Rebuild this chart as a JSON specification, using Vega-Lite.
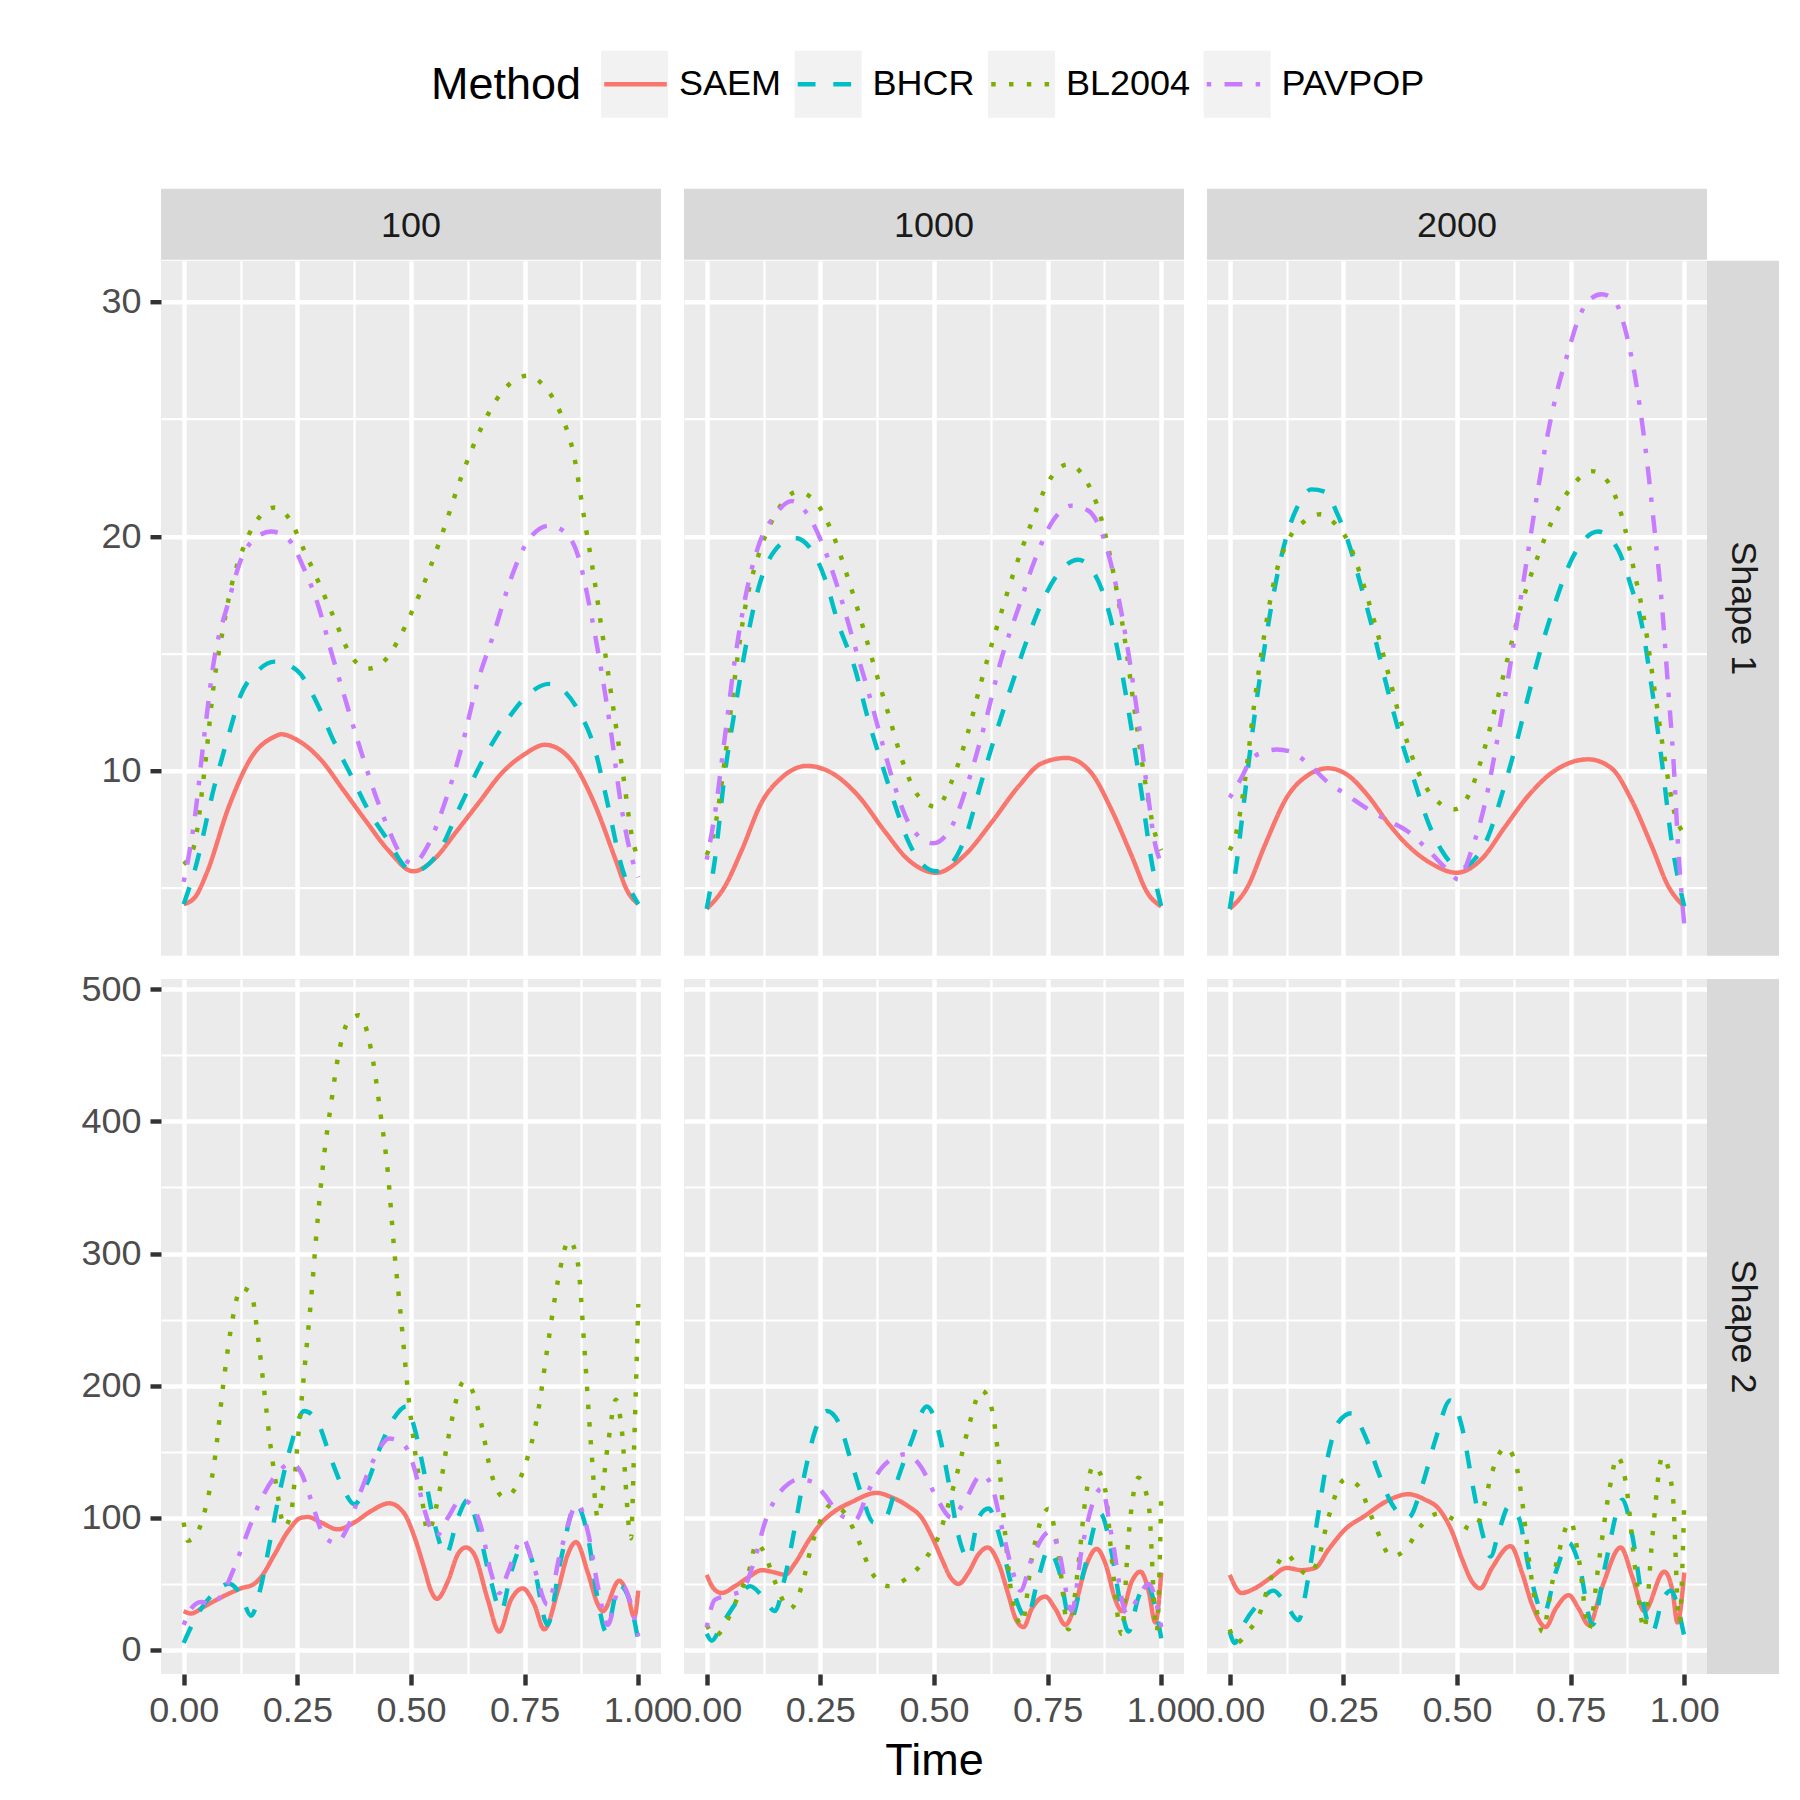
{
"$schema": "https://vega.github.io/schema/vega-lite/v6.json",
"background": "white",
"padding": {"left": 80, "top": 49.7, "right": 0, "bottom": 0},
"autosize": {"type": "pad"},
"config": {
 "font": "Liberation Sans",
 "view": {"stroke": null},
 "axis": {"domain": false, "gridColor": "#FFFFFF", "tickColor": "#333333", "labelColor": "#4D4D4D", "labelFontSize": 36, "tickSize": 11, "tickWidth": 4.45, "labelPadding": 9, "titleFontSize": 45, "titleFontWeight": "normal", "titleColor": "#000000", "titlePadding": 10, "labelFlush": false, "labelOverlap": false},
 "legend": {"titleFontSize": 45, "titleFontWeight": "normal", "titleColor": "#000000", "labelFontSize": 36, "labelColor": "#000000", "labelOffset": 10, "columnPadding": 6.5, "titlePadding": 20}
},
"datasets": {"d": [
{"n":"100","s":"Shape 1","m":"SAEM","t":0,"v":4.3},{"n":"100","s":"Shape 1","m":"SAEM","t":0.025,"v":4.6},{"n":"100","s":"Shape 1","m":"SAEM","t":0.05,"v":5.6},{"n":"100","s":"Shape 1","m":"SAEM","t":0.1,"v":8.5},{"n":"100","s":"Shape 1","m":"SAEM","t":0.15,"v":10.6},{"n":"100","s":"Shape 1","m":"SAEM","t":0.2,"v":11.45},{"n":"100","s":"Shape 1","m":"SAEM","t":0.214,"v":11.55},{"n":"100","s":"Shape 1","m":"SAEM","t":0.25,"v":11.3},{"n":"100","s":"Shape 1","m":"SAEM","t":0.3,"v":10.5},{"n":"100","s":"Shape 1","m":"SAEM","t":0.35,"v":9.2},{"n":"100","s":"Shape 1","m":"SAEM","t":0.4,"v":7.87},{"n":"100","s":"Shape 1","m":"SAEM","t":0.45,"v":6.6},{"n":"100","s":"Shape 1","m":"SAEM","t":0.505,"v":5.7},{"n":"100","s":"Shape 1","m":"SAEM","t":0.55,"v":6.2},{"n":"100","s":"Shape 1","m":"SAEM","t":0.6,"v":7.4},{"n":"100","s":"Shape 1","m":"SAEM","t":0.65,"v":8.65},{"n":"100","s":"Shape 1","m":"SAEM","t":0.7,"v":9.9},{"n":"100","s":"Shape 1","m":"SAEM","t":0.75,"v":10.7},{"n":"100","s":"Shape 1","m":"SAEM","t":0.795,"v":11.1},{"n":"100","s":"Shape 1","m":"SAEM","t":0.85,"v":10.5},{"n":"100","s":"Shape 1","m":"SAEM","t":0.9,"v":8.75},{"n":"100","s":"Shape 1","m":"SAEM","t":0.95,"v":6.2},{"n":"100","s":"Shape 1","m":"SAEM","t":0.975,"v":4.9},{"n":"100","s":"Shape 1","m":"SAEM","t":1,"v":4.3},
{"n":"100","s":"Shape 1","m":"BHCR","t":0,"v":4.3},{"n":"100","s":"Shape 1","m":"BHCR","t":0.025,"v":5.8},{"n":"100","s":"Shape 1","m":"BHCR","t":0.067,"v":9.3},{"n":"100","s":"Shape 1","m":"BHCR","t":0.1,"v":11.6},{"n":"100","s":"Shape 1","m":"BHCR","t":0.125,"v":13.2},{"n":"100","s":"Shape 1","m":"BHCR","t":0.16,"v":14.2},{"n":"100","s":"Shape 1","m":"BHCR","t":0.2,"v":14.65},{"n":"100","s":"Shape 1","m":"BHCR","t":0.25,"v":14.26},{"n":"100","s":"Shape 1","m":"BHCR","t":0.295,"v":12.8},{"n":"100","s":"Shape 1","m":"BHCR","t":0.33,"v":11.26},{"n":"100","s":"Shape 1","m":"BHCR","t":0.368,"v":9.8},{"n":"100","s":"Shape 1","m":"BHCR","t":0.405,"v":8.35},{"n":"100","s":"Shape 1","m":"BHCR","t":0.45,"v":7.0},{"n":"100","s":"Shape 1","m":"BHCR","t":0.49,"v":5.84},{"n":"100","s":"Shape 1","m":"BHCR","t":0.507,"v":5.7},{"n":"100","s":"Shape 1","m":"BHCR","t":0.56,"v":6.5},{"n":"100","s":"Shape 1","m":"BHCR","t":0.61,"v":8.55},{"n":"100","s":"Shape 1","m":"BHCR","t":0.654,"v":10.3},{"n":"100","s":"Shape 1","m":"BHCR","t":0.713,"v":12.2},{"n":"100","s":"Shape 1","m":"BHCR","t":0.75,"v":13.1},{"n":"100","s":"Shape 1","m":"BHCR","t":0.804,"v":13.7},{"n":"100","s":"Shape 1","m":"BHCR","t":0.867,"v":12.6},{"n":"100","s":"Shape 1","m":"BHCR","t":0.903,"v":11.0},{"n":"100","s":"Shape 1","m":"BHCR","t":0.933,"v":8.55},{"n":"100","s":"Shape 1","m":"BHCR","t":0.962,"v":6.0},{"n":"100","s":"Shape 1","m":"BHCR","t":1,"v":4.3},
{"n":"100","s":"Shape 1","m":"BL2004","t":0,"v":6.0},{"n":"100","s":"Shape 1","m":"BL2004","t":0.023,"v":6.8},{"n":"100","s":"Shape 1","m":"BL2004","t":0.045,"v":9.9},{"n":"100","s":"Shape 1","m":"BL2004","t":0.067,"v":13.8},{"n":"100","s":"Shape 1","m":"BL2004","t":0.086,"v":16.0},{"n":"100","s":"Shape 1","m":"BL2004","t":0.104,"v":17.8},{"n":"100","s":"Shape 1","m":"BL2004","t":0.133,"v":19.6},{"n":"100","s":"Shape 1","m":"BL2004","t":0.17,"v":20.9},{"n":"100","s":"Shape 1","m":"BL2004","t":0.2,"v":21.23},{"n":"100","s":"Shape 1","m":"BL2004","t":0.232,"v":20.75},{"n":"100","s":"Shape 1","m":"BL2004","t":0.265,"v":19.4},{"n":"100","s":"Shape 1","m":"BL2004","t":0.302,"v":17.8},{"n":"100","s":"Shape 1","m":"BL2004","t":0.331,"v":16.5},{"n":"100","s":"Shape 1","m":"BL2004","t":0.368,"v":14.9},{"n":"100","s":"Shape 1","m":"BL2004","t":0.405,"v":14.35},{"n":"100","s":"Shape 1","m":"BL2004","t":0.434,"v":14.55},{"n":"100","s":"Shape 1","m":"BL2004","t":0.47,"v":15.5},{"n":"100","s":"Shape 1","m":"BL2004","t":0.5,"v":16.7},{"n":"100","s":"Shape 1","m":"BL2004","t":0.537,"v":18.4},{"n":"100","s":"Shape 1","m":"BL2004","t":0.573,"v":20.35},{"n":"100","s":"Shape 1","m":"BL2004","t":0.61,"v":22.5},{"n":"100","s":"Shape 1","m":"BL2004","t":0.654,"v":24.6},{"n":"100","s":"Shape 1","m":"BL2004","t":0.698,"v":26.1},{"n":"100","s":"Shape 1","m":"BL2004","t":0.727,"v":26.65},{"n":"100","s":"Shape 1","m":"BL2004","t":0.757,"v":26.85},{"n":"100","s":"Shape 1","m":"BL2004","t":0.793,"v":26.4},{"n":"100","s":"Shape 1","m":"BL2004","t":0.83,"v":25.2},{"n":"100","s":"Shape 1","m":"BL2004","t":0.86,"v":23.3},{"n":"100","s":"Shape 1","m":"BL2004","t":0.88,"v":20.9},{"n":"100","s":"Shape 1","m":"BL2004","t":0.903,"v":18.2},{"n":"100","s":"Shape 1","m":"BL2004","t":0.925,"v":15.3},{"n":"100","s":"Shape 1","m":"BL2004","t":0.947,"v":12.4},{"n":"100","s":"Shape 1","m":"BL2004","t":0.969,"v":9.5},{"n":"100","s":"Shape 1","m":"BL2004","t":0.984,"v":7.4},{"n":"100","s":"Shape 1","m":"BL2004","t":1,"v":6.2},
{"n":"100","s":"Shape 1","m":"PAVPOP","t":0,"v":5.25},{"n":"100","s":"Shape 1","m":"PAVPOP","t":0.023,"v":7.8},{"n":"100","s":"Shape 1","m":"PAVPOP","t":0.045,"v":11.45},{"n":"100","s":"Shape 1","m":"PAVPOP","t":0.067,"v":14.75},{"n":"100","s":"Shape 1","m":"PAVPOP","t":0.097,"v":17.1},{"n":"100","s":"Shape 1","m":"PAVPOP","t":0.126,"v":19.0},{"n":"100","s":"Shape 1","m":"PAVPOP","t":0.163,"v":20.0},{"n":"100","s":"Shape 1","m":"PAVPOP","t":0.192,"v":20.2},{"n":"100","s":"Shape 1","m":"PAVPOP","t":0.229,"v":19.9},{"n":"100","s":"Shape 1","m":"PAVPOP","t":0.265,"v":18.6},{"n":"100","s":"Shape 1","m":"PAVPOP","t":0.295,"v":17.1},{"n":"100","s":"Shape 1","m":"PAVPOP","t":0.324,"v":15.1},{"n":"100","s":"Shape 1","m":"PAVPOP","t":0.353,"v":13.2},{"n":"100","s":"Shape 1","m":"PAVPOP","t":0.383,"v":11.26},{"n":"100","s":"Shape 1","m":"PAVPOP","t":0.412,"v":9.5},{"n":"100","s":"Shape 1","m":"PAVPOP","t":0.449,"v":7.58},{"n":"100","s":"Shape 1","m":"PAVPOP","t":0.478,"v":6.4},{"n":"100","s":"Shape 1","m":"PAVPOP","t":0.504,"v":6.03},{"n":"100","s":"Shape 1","m":"PAVPOP","t":0.537,"v":6.8},{"n":"100","s":"Shape 1","m":"PAVPOP","t":0.573,"v":8.55},{"n":"100","s":"Shape 1","m":"PAVPOP","t":0.61,"v":10.9},{"n":"100","s":"Shape 1","m":"PAVPOP","t":0.647,"v":13.8},{"n":"100","s":"Shape 1","m":"PAVPOP","t":0.683,"v":15.9},{"n":"100","s":"Shape 1","m":"PAVPOP","t":0.72,"v":18.2},{"n":"100","s":"Shape 1","m":"PAVPOP","t":0.757,"v":19.8},{"n":"100","s":"Shape 1","m":"PAVPOP","t":0.804,"v":20.45},{"n":"100","s":"Shape 1","m":"PAVPOP","t":0.837,"v":20.2},{"n":"100","s":"Shape 1","m":"PAVPOP","t":0.867,"v":19.2},{"n":"100","s":"Shape 1","m":"PAVPOP","t":0.896,"v":16.7},{"n":"100","s":"Shape 1","m":"PAVPOP","t":0.918,"v":14.35},{"n":"100","s":"Shape 1","m":"PAVPOP","t":0.94,"v":11.65},{"n":"100","s":"Shape 1","m":"PAVPOP","t":0.962,"v":8.55},{"n":"100","s":"Shape 1","m":"PAVPOP","t":0.984,"v":6.4},{"n":"100","s":"Shape 1","m":"PAVPOP","t":1,"v":5.45},
{"n":"1000","s":"Shape 1","m":"SAEM","t":0,"v":4.1},{"n":"1000","s":"Shape 1","m":"SAEM","t":0.04,"v":5.06},{"n":"1000","s":"Shape 1","m":"SAEM","t":0.077,"v":6.6},{"n":"1000","s":"Shape 1","m":"SAEM","t":0.121,"v":8.65},{"n":"1000","s":"Shape 1","m":"SAEM","t":0.165,"v":9.7},{"n":"1000","s":"Shape 1","m":"SAEM","t":0.22,"v":10.2},{"n":"1000","s":"Shape 1","m":"SAEM","t":0.275,"v":9.9},{"n":"1000","s":"Shape 1","m":"SAEM","t":0.333,"v":8.93},{"n":"1000","s":"Shape 1","m":"SAEM","t":0.392,"v":7.4},{"n":"1000","s":"Shape 1","m":"SAEM","t":0.443,"v":6.2},{"n":"1000","s":"Shape 1","m":"SAEM","t":0.505,"v":5.64},{"n":"1000","s":"Shape 1","m":"SAEM","t":0.568,"v":6.4},{"n":"1000","s":"Shape 1","m":"SAEM","t":0.626,"v":7.77},{"n":"1000","s":"Shape 1","m":"SAEM","t":0.685,"v":9.3},{"n":"1000","s":"Shape 1","m":"SAEM","t":0.736,"v":10.3},{"n":"1000","s":"Shape 1","m":"SAEM","t":0.791,"v":10.54},{"n":"1000","s":"Shape 1","m":"SAEM","t":0.846,"v":9.9},{"n":"1000","s":"Shape 1","m":"SAEM","t":0.89,"v":8.35},{"n":"1000","s":"Shape 1","m":"SAEM","t":0.934,"v":6.4},{"n":"1000","s":"Shape 1","m":"SAEM","t":0.97,"v":4.77},{"n":"1000","s":"Shape 1","m":"SAEM","t":1,"v":4.2},
{"n":"1000","s":"Shape 1","m":"BHCR","t":0,"v":4.1},{"n":"1000","s":"Shape 1","m":"BHCR","t":0.018,"v":6.2},{"n":"1000","s":"Shape 1","m":"BHCR","t":0.04,"v":9.9},{"n":"1000","s":"Shape 1","m":"BHCR","t":0.062,"v":12.6},{"n":"1000","s":"Shape 1","m":"BHCR","t":0.084,"v":15.1},{"n":"1000","s":"Shape 1","m":"BHCR","t":0.114,"v":17.8},{"n":"1000","s":"Shape 1","m":"BHCR","t":0.15,"v":19.4},{"n":"1000","s":"Shape 1","m":"BHCR","t":0.194,"v":19.93},{"n":"1000","s":"Shape 1","m":"BHCR","t":0.231,"v":19.4},{"n":"1000","s":"Shape 1","m":"BHCR","t":0.26,"v":18.2},{"n":"1000","s":"Shape 1","m":"BHCR","t":0.289,"v":16.3},{"n":"1000","s":"Shape 1","m":"BHCR","t":0.326,"v":14.35},{"n":"1000","s":"Shape 1","m":"BHCR","t":0.355,"v":12.2},{"n":"1000","s":"Shape 1","m":"BHCR","t":0.385,"v":10.3},{"n":"1000","s":"Shape 1","m":"BHCR","t":0.414,"v":8.55},{"n":"1000","s":"Shape 1","m":"BHCR","t":0.443,"v":7.0},{"n":"1000","s":"Shape 1","m":"BHCR","t":0.473,"v":6.03},{"n":"1000","s":"Shape 1","m":"BHCR","t":0.505,"v":5.7},{"n":"1000","s":"Shape 1","m":"BHCR","t":0.538,"v":6.03},{"n":"1000","s":"Shape 1","m":"BHCR","t":0.568,"v":7.1},{"n":"1000","s":"Shape 1","m":"BHCR","t":0.604,"v":9.5},{"n":"1000","s":"Shape 1","m":"BHCR","t":0.634,"v":11.45},{"n":"1000","s":"Shape 1","m":"BHCR","t":0.67,"v":13.6},{"n":"1000","s":"Shape 1","m":"BHCR","t":0.707,"v":15.7},{"n":"1000","s":"Shape 1","m":"BHCR","t":0.744,"v":17.45},{"n":"1000","s":"Shape 1","m":"BHCR","t":0.773,"v":18.4},{"n":"1000","s":"Shape 1","m":"BHCR","t":0.817,"v":19.0},{"n":"1000","s":"Shape 1","m":"BHCR","t":0.853,"v":18.4},{"n":"1000","s":"Shape 1","m":"BHCR","t":0.883,"v":16.9},{"n":"1000","s":"Shape 1","m":"BHCR","t":0.912,"v":14.35},{"n":"1000","s":"Shape 1","m":"BHCR","t":0.934,"v":11.84},{"n":"1000","s":"Shape 1","m":"BHCR","t":0.956,"v":9.13},{"n":"1000","s":"Shape 1","m":"BHCR","t":0.978,"v":6.2},{"n":"1000","s":"Shape 1","m":"BHCR","t":1,"v":4.2},
{"n":"1000","s":"Shape 1","m":"BL2004","t":0,"v":6.4},{"n":"1000","s":"Shape 1","m":"BL2004","t":0.018,"v":7.58},{"n":"1000","s":"Shape 1","m":"BL2004","t":0.04,"v":10.5},{"n":"1000","s":"Shape 1","m":"BL2004","t":0.062,"v":14.0},{"n":"1000","s":"Shape 1","m":"BL2004","t":0.084,"v":16.9},{"n":"1000","s":"Shape 1","m":"BL2004","t":0.114,"v":19.2},{"n":"1000","s":"Shape 1","m":"BL2004","t":0.15,"v":20.9},{"n":"1000","s":"Shape 1","m":"BL2004","t":0.2,"v":21.9},{"n":"1000","s":"Shape 1","m":"BL2004","t":0.238,"v":21.5},{"n":"1000","s":"Shape 1","m":"BL2004","t":0.275,"v":20.2},{"n":"1000","s":"Shape 1","m":"BL2004","t":0.311,"v":18.2},{"n":"1000","s":"Shape 1","m":"BL2004","t":0.341,"v":16.3},{"n":"1000","s":"Shape 1","m":"BL2004","t":0.37,"v":14.35},{"n":"1000","s":"Shape 1","m":"BL2004","t":0.4,"v":12.4},{"n":"1000","s":"Shape 1","m":"BL2004","t":0.429,"v":10.5},{"n":"1000","s":"Shape 1","m":"BL2004","t":0.465,"v":8.93},{"n":"1000","s":"Shape 1","m":"BL2004","t":0.505,"v":8.45},{"n":"1000","s":"Shape 1","m":"BL2004","t":0.538,"v":9.5},{"n":"1000","s":"Shape 1","m":"BL2004","t":0.575,"v":11.65},{"n":"1000","s":"Shape 1","m":"BL2004","t":0.604,"v":13.8},{"n":"1000","s":"Shape 1","m":"BL2004","t":0.641,"v":16.3},{"n":"1000","s":"Shape 1","m":"BL2004","t":0.678,"v":18.6},{"n":"1000","s":"Shape 1","m":"BL2004","t":0.714,"v":20.55},{"n":"1000","s":"Shape 1","m":"BL2004","t":0.751,"v":22.3},{"n":"1000","s":"Shape 1","m":"BL2004","t":0.795,"v":23.07},{"n":"1000","s":"Shape 1","m":"BL2004","t":0.831,"v":22.5},{"n":"1000","s":"Shape 1","m":"BL2004","t":0.868,"v":20.75},{"n":"1000","s":"Shape 1","m":"BL2004","t":0.897,"v":18.2},{"n":"1000","s":"Shape 1","m":"BL2004","t":0.919,"v":15.7},{"n":"1000","s":"Shape 1","m":"BL2004","t":0.941,"v":12.6},{"n":"1000","s":"Shape 1","m":"BL2004","t":0.963,"v":9.7},{"n":"1000","s":"Shape 1","m":"BL2004","t":0.985,"v":7.4},{"n":"1000","s":"Shape 1","m":"BL2004","t":1,"v":6.6},
{"n":"1000","s":"Shape 1","m":"PAVPOP","t":0,"v":6.2},{"n":"1000","s":"Shape 1","m":"PAVPOP","t":0.018,"v":8.16},{"n":"1000","s":"Shape 1","m":"PAVPOP","t":0.04,"v":11.45},{"n":"1000","s":"Shape 1","m":"PAVPOP","t":0.062,"v":14.75},{"n":"1000","s":"Shape 1","m":"PAVPOP","t":0.084,"v":17.3},{"n":"1000","s":"Shape 1","m":"PAVPOP","t":0.114,"v":19.6},{"n":"1000","s":"Shape 1","m":"PAVPOP","t":0.15,"v":20.9},{"n":"1000","s":"Shape 1","m":"PAVPOP","t":0.187,"v":21.5},{"n":"1000","s":"Shape 1","m":"PAVPOP","t":0.223,"v":20.9},{"n":"1000","s":"Shape 1","m":"PAVPOP","t":0.26,"v":19.4},{"n":"1000","s":"Shape 1","m":"PAVPOP","t":0.297,"v":17.26},{"n":"1000","s":"Shape 1","m":"PAVPOP","t":0.326,"v":15.3},{"n":"1000","s":"Shape 1","m":"PAVPOP","t":0.355,"v":13.4},{"n":"1000","s":"Shape 1","m":"PAVPOP","t":0.385,"v":11.26},{"n":"1000","s":"Shape 1","m":"PAVPOP","t":0.414,"v":9.3},{"n":"1000","s":"Shape 1","m":"PAVPOP","t":0.45,"v":7.58},{"n":"1000","s":"Shape 1","m":"PAVPOP","t":0.498,"v":6.9},{"n":"1000","s":"Shape 1","m":"PAVPOP","t":0.538,"v":7.58},{"n":"1000","s":"Shape 1","m":"PAVPOP","t":0.575,"v":9.5},{"n":"1000","s":"Shape 1","m":"PAVPOP","t":0.612,"v":12.0},{"n":"1000","s":"Shape 1","m":"PAVPOP","t":0.648,"v":14.75},{"n":"1000","s":"Shape 1","m":"PAVPOP","t":0.685,"v":16.9},{"n":"1000","s":"Shape 1","m":"PAVPOP","t":0.722,"v":19.0},{"n":"1000","s":"Shape 1","m":"PAVPOP","t":0.758,"v":20.55},{"n":"1000","s":"Shape 1","m":"PAVPOP","t":0.802,"v":21.3},{"n":"1000","s":"Shape 1","m":"PAVPOP","t":0.839,"v":21.1},{"n":"1000","s":"Shape 1","m":"PAVPOP","t":0.868,"v":20.2},{"n":"1000","s":"Shape 1","m":"PAVPOP","t":0.897,"v":18.2},{"n":"1000","s":"Shape 1","m":"PAVPOP","t":0.927,"v":15.1},{"n":"1000","s":"Shape 1","m":"PAVPOP","t":0.949,"v":12.2},{"n":"1000","s":"Shape 1","m":"PAVPOP","t":0.971,"v":8.93},{"n":"1000","s":"Shape 1","m":"PAVPOP","t":0.985,"v":7.0},{"n":"1000","s":"Shape 1","m":"PAVPOP","t":1,"v":6.03},
{"n":"2000","s":"Shape 1","m":"SAEM","t":0,"v":4.1},{"n":"2000","s":"Shape 1","m":"SAEM","t":0.04,"v":5.06},{"n":"2000","s":"Shape 1","m":"SAEM","t":0.077,"v":6.8},{"n":"2000","s":"Shape 1","m":"SAEM","t":0.128,"v":8.93},{"n":"2000","s":"Shape 1","m":"SAEM","t":0.172,"v":9.8},{"n":"2000","s":"Shape 1","m":"SAEM","t":0.216,"v":10.1},{"n":"2000","s":"Shape 1","m":"SAEM","t":0.26,"v":9.8},{"n":"2000","s":"Shape 1","m":"SAEM","t":0.304,"v":8.93},{"n":"2000","s":"Shape 1","m":"SAEM","t":0.348,"v":7.77},{"n":"2000","s":"Shape 1","m":"SAEM","t":0.392,"v":6.8},{"n":"2000","s":"Shape 1","m":"SAEM","t":0.444,"v":6.03},{"n":"2000","s":"Shape 1","m":"SAEM","t":0.499,"v":5.64},{"n":"2000","s":"Shape 1","m":"SAEM","t":0.554,"v":6.22},{"n":"2000","s":"Shape 1","m":"SAEM","t":0.605,"v":7.58},{"n":"2000","s":"Shape 1","m":"SAEM","t":0.657,"v":8.93},{"n":"2000","s":"Shape 1","m":"SAEM","t":0.708,"v":9.9},{"n":"2000","s":"Shape 1","m":"SAEM","t":0.789,"v":10.48},{"n":"2000","s":"Shape 1","m":"SAEM","t":0.84,"v":10.1},{"n":"2000","s":"Shape 1","m":"SAEM","t":0.884,"v":8.74},{"n":"2000","s":"Shape 1","m":"SAEM","t":0.928,"v":6.8},{"n":"2000","s":"Shape 1","m":"SAEM","t":0.965,"v":5.06},{"n":"2000","s":"Shape 1","m":"SAEM","t":1,"v":4.2},
{"n":"2000","s":"Shape 1","m":"BHCR","t":0,"v":4.1},{"n":"2000","s":"Shape 1","m":"BHCR","t":0.015,"v":6.03},{"n":"2000","s":"Shape 1","m":"BHCR","t":0.033,"v":8.93},{"n":"2000","s":"Shape 1","m":"BHCR","t":0.055,"v":12.4},{"n":"2000","s":"Shape 1","m":"BHCR","t":0.077,"v":15.3},{"n":"2000","s":"Shape 1","m":"BHCR","t":0.099,"v":17.8},{"n":"2000","s":"Shape 1","m":"BHCR","t":0.128,"v":20.2},{"n":"2000","s":"Shape 1","m":"BHCR","t":0.15,"v":21.3},{"n":"2000","s":"Shape 1","m":"BHCR","t":0.18,"v":22.0},{"n":"2000","s":"Shape 1","m":"BHCR","t":0.209,"v":21.9},{"n":"2000","s":"Shape 1","m":"BHCR","t":0.238,"v":20.9},{"n":"2000","s":"Shape 1","m":"BHCR","t":0.26,"v":19.8},{"n":"2000","s":"Shape 1","m":"BHCR","t":0.29,"v":17.8},{"n":"2000","s":"Shape 1","m":"BHCR","t":0.319,"v":15.7},{"n":"2000","s":"Shape 1","m":"BHCR","t":0.348,"v":13.4},{"n":"2000","s":"Shape 1","m":"BHCR","t":0.378,"v":11.26},{"n":"2000","s":"Shape 1","m":"BHCR","t":0.407,"v":9.5},{"n":"2000","s":"Shape 1","m":"BHCR","t":0.437,"v":7.77},{"n":"2000","s":"Shape 1","m":"BHCR","t":0.466,"v":6.6},{"n":"2000","s":"Shape 1","m":"BHCR","t":0.506,"v":5.84},{"n":"2000","s":"Shape 1","m":"BHCR","t":0.539,"v":6.22},{"n":"2000","s":"Shape 1","m":"BHCR","t":0.569,"v":7.2},{"n":"2000","s":"Shape 1","m":"BHCR","t":0.598,"v":8.93},{"n":"2000","s":"Shape 1","m":"BHCR","t":0.627,"v":10.9},{"n":"2000","s":"Shape 1","m":"BHCR","t":0.657,"v":13.2},{"n":"2000","s":"Shape 1","m":"BHCR","t":0.686,"v":15.3},{"n":"2000","s":"Shape 1","m":"BHCR","t":0.715,"v":17.1},{"n":"2000","s":"Shape 1","m":"BHCR","t":0.752,"v":19.0},{"n":"2000","s":"Shape 1","m":"BHCR","t":0.811,"v":20.2},{"n":"2000","s":"Shape 1","m":"BHCR","t":0.855,"v":19.4},{"n":"2000","s":"Shape 1","m":"BHCR","t":0.884,"v":17.8},{"n":"2000","s":"Shape 1","m":"BHCR","t":0.906,"v":16.3},{"n":"2000","s":"Shape 1","m":"BHCR","t":0.928,"v":13.6},{"n":"2000","s":"Shape 1","m":"BHCR","t":0.95,"v":10.5},{"n":"2000","s":"Shape 1","m":"BHCR","t":0.972,"v":7.0},{"n":"2000","s":"Shape 1","m":"BHCR","t":1,"v":4.2},
{"n":"2000","s":"Shape 1","m":"BL2004","t":0,"v":6.6},{"n":"2000","s":"Shape 1","m":"BL2004","t":0.015,"v":7.4},{"n":"2000","s":"Shape 1","m":"BL2004","t":0.033,"v":9.5},{"n":"2000","s":"Shape 1","m":"BL2004","t":0.055,"v":13.0},{"n":"2000","s":"Shape 1","m":"BL2004","t":0.077,"v":15.9},{"n":"2000","s":"Shape 1","m":"BL2004","t":0.099,"v":18.2},{"n":"2000","s":"Shape 1","m":"BL2004","t":0.128,"v":19.8},{"n":"2000","s":"Shape 1","m":"BL2004","t":0.165,"v":20.65},{"n":"2000","s":"Shape 1","m":"BL2004","t":0.2,"v":20.94},{"n":"2000","s":"Shape 1","m":"BL2004","t":0.231,"v":20.55},{"n":"2000","s":"Shape 1","m":"BL2004","t":0.26,"v":19.8},{"n":"2000","s":"Shape 1","m":"BL2004","t":0.29,"v":18.2},{"n":"2000","s":"Shape 1","m":"BL2004","t":0.319,"v":16.3},{"n":"2000","s":"Shape 1","m":"BL2004","t":0.348,"v":14.2},{"n":"2000","s":"Shape 1","m":"BL2004","t":0.378,"v":12.0},{"n":"2000","s":"Shape 1","m":"BL2004","t":0.407,"v":10.3},{"n":"2000","s":"Shape 1","m":"BL2004","t":0.437,"v":9.13},{"n":"2000","s":"Shape 1","m":"BL2004","t":0.466,"v":8.55},{"n":"2000","s":"Shape 1","m":"BL2004","t":0.495,"v":8.35},{"n":"2000","s":"Shape 1","m":"BL2004","t":0.525,"v":8.93},{"n":"2000","s":"Shape 1","m":"BL2004","t":0.554,"v":10.5},{"n":"2000","s":"Shape 1","m":"BL2004","t":0.583,"v":12.6},{"n":"2000","s":"Shape 1","m":"BL2004","t":0.613,"v":14.9},{"n":"2000","s":"Shape 1","m":"BL2004","t":0.642,"v":17.1},{"n":"2000","s":"Shape 1","m":"BL2004","t":0.679,"v":19.2},{"n":"2000","s":"Shape 1","m":"BL2004","t":0.715,"v":20.9},{"n":"2000","s":"Shape 1","m":"BL2004","t":0.752,"v":22.1},{"n":"2000","s":"Shape 1","m":"BL2004","t":0.796,"v":22.78},{"n":"2000","s":"Shape 1","m":"BL2004","t":0.833,"v":22.3},{"n":"2000","s":"Shape 1","m":"BL2004","t":0.862,"v":20.9},{"n":"2000","s":"Shape 1","m":"BL2004","t":0.891,"v":18.4},{"n":"2000","s":"Shape 1","m":"BL2004","t":0.913,"v":16.3},{"n":"2000","s":"Shape 1","m":"BL2004","t":0.935,"v":13.4},{"n":"2000","s":"Shape 1","m":"BL2004","t":0.957,"v":10.5},{"n":"2000","s":"Shape 1","m":"BL2004","t":0.979,"v":8.16},{"n":"2000","s":"Shape 1","m":"BL2004","t":1,"v":7.3},
{"n":"2000","s":"Shape 1","m":"PAVPOP","t":0,"v":8.84},{"n":"2000","s":"Shape 1","m":"PAVPOP","t":0.026,"v":9.7},{"n":"2000","s":"Shape 1","m":"PAVPOP","t":0.048,"v":10.5},{"n":"2000","s":"Shape 1","m":"PAVPOP","t":0.077,"v":10.8},{"n":"2000","s":"Shape 1","m":"PAVPOP","t":0.103,"v":10.9},{"n":"2000","s":"Shape 1","m":"PAVPOP","t":0.136,"v":10.8},{"n":"2000","s":"Shape 1","m":"PAVPOP","t":0.172,"v":10.3},{"n":"2000","s":"Shape 1","m":"PAVPOP","t":0.216,"v":9.5},{"n":"2000","s":"Shape 1","m":"PAVPOP","t":0.26,"v":8.93},{"n":"2000","s":"Shape 1","m":"PAVPOP","t":0.304,"v":8.35},{"n":"2000","s":"Shape 1","m":"PAVPOP","t":0.348,"v":7.87},{"n":"2000","s":"Shape 1","m":"PAVPOP","t":0.392,"v":7.4},{"n":"2000","s":"Shape 1","m":"PAVPOP","t":0.437,"v":6.6},{"n":"2000","s":"Shape 1","m":"PAVPOP","t":0.48,"v":5.74},{"n":"2000","s":"Shape 1","m":"PAVPOP","t":0.503,"v":5.35},{"n":"2000","s":"Shape 1","m":"PAVPOP","t":0.532,"v":6.6},{"n":"2000","s":"Shape 1","m":"PAVPOP","t":0.561,"v":8.55},{"n":"2000","s":"Shape 1","m":"PAVPOP","t":0.59,"v":11.45},{"n":"2000","s":"Shape 1","m":"PAVPOP","t":0.613,"v":14.0},{"n":"2000","s":"Shape 1","m":"PAVPOP","t":0.635,"v":16.7},{"n":"2000","s":"Shape 1","m":"PAVPOP","t":0.657,"v":19.4},{"n":"2000","s":"Shape 1","m":"PAVPOP","t":0.679,"v":22.1},{"n":"2000","s":"Shape 1","m":"PAVPOP","t":0.7,"v":24.4},{"n":"2000","s":"Shape 1","m":"PAVPOP","t":0.723,"v":26.4},{"n":"2000","s":"Shape 1","m":"PAVPOP","t":0.745,"v":27.9},{"n":"2000","s":"Shape 1","m":"PAVPOP","t":0.767,"v":29.26},{"n":"2000","s":"Shape 1","m":"PAVPOP","t":0.789,"v":30.04},{"n":"2000","s":"Shape 1","m":"PAVPOP","t":0.818,"v":30.33},{"n":"2000","s":"Shape 1","m":"PAVPOP","t":0.847,"v":30.04},{"n":"2000","s":"Shape 1","m":"PAVPOP","t":0.869,"v":28.9},{"n":"2000","s":"Shape 1","m":"PAVPOP","t":0.891,"v":26.9},{"n":"2000","s":"Shape 1","m":"PAVPOP","t":0.913,"v":24.0},{"n":"2000","s":"Shape 1","m":"PAVPOP","t":0.935,"v":20.2},{"n":"2000","s":"Shape 1","m":"PAVPOP","t":0.95,"v":17.26},{"n":"2000","s":"Shape 1","m":"PAVPOP","t":0.965,"v":13.4},{"n":"2000","s":"Shape 1","m":"PAVPOP","t":0.976,"v":10.5},{"n":"2000","s":"Shape 1","m":"PAVPOP","t":0.987,"v":6.6},{"n":"2000","s":"Shape 1","m":"PAVPOP","t":1,"v":3.42},
{"n":"100","s":"Shape 2","m":"SAEM","t":0,"v":29.3},{"n":"100","s":"Shape 2","m":"SAEM","t":0.016,"v":27.5},{"n":"100","s":"Shape 2","m":"SAEM","t":0.045,"v":32.7},{"n":"100","s":"Shape 2","m":"SAEM","t":0.082,"v":39.6},{"n":"100","s":"Shape 2","m":"SAEM","t":0.126,"v":46.5},{"n":"100","s":"Shape 2","m":"SAEM","t":0.155,"v":49.9},{"n":"100","s":"Shape 2","m":"SAEM","t":0.17,"v":55},{"n":"100","s":"Shape 2","m":"SAEM","t":0.2,"v":72.3},{"n":"100","s":"Shape 2","m":"SAEM","t":0.229,"v":89.5},{"n":"100","s":"Shape 2","m":"SAEM","t":0.258,"v":99.9},{"n":"100","s":"Shape 2","m":"SAEM","t":0.273,"v":100.5},{"n":"100","s":"Shape 2","m":"SAEM","t":0.302,"v":96.4},{"n":"100","s":"Shape 2","m":"SAEM","t":0.339,"v":91.2},{"n":"100","s":"Shape 2","m":"SAEM","t":0.375,"v":96.4},{"n":"100","s":"Shape 2","m":"SAEM","t":0.412,"v":105},{"n":"100","s":"Shape 2","m":"SAEM","t":0.452,"v":110.9},{"n":"100","s":"Shape 2","m":"SAEM","t":0.485,"v":103.3},{"n":"100","s":"Shape 2","m":"SAEM","t":0.507,"v":86},{"n":"100","s":"Shape 2","m":"SAEM","t":0.529,"v":62},{"n":"100","s":"Shape 2","m":"SAEM","t":0.544,"v":44.8},{"n":"100","s":"Shape 2","m":"SAEM","t":0.557,"v":38.6},{"n":"100","s":"Shape 2","m":"SAEM","t":0.581,"v":51.7},{"n":"100","s":"Shape 2","m":"SAEM","t":0.603,"v":72.3},{"n":"100","s":"Shape 2","m":"SAEM","t":0.621,"v":77.5},{"n":"100","s":"Shape 2","m":"SAEM","t":0.639,"v":72.3},{"n":"100","s":"Shape 2","m":"SAEM","t":0.669,"v":37.9},{"n":"100","s":"Shape 2","m":"SAEM","t":0.694,"v":13.8},{"n":"100","s":"Shape 2","m":"SAEM","t":0.72,"v":37.9},{"n":"100","s":"Shape 2","m":"SAEM","t":0.746,"v":46.5},{"n":"100","s":"Shape 2","m":"SAEM","t":0.771,"v":34.4},{"n":"100","s":"Shape 2","m":"SAEM","t":0.793,"v":15.5},{"n":"100","s":"Shape 2","m":"SAEM","t":0.823,"v":44.8},{"n":"100","s":"Shape 2","m":"SAEM","t":0.845,"v":72.3},{"n":"100","s":"Shape 2","m":"SAEM","t":0.863,"v":81.6},{"n":"100","s":"Shape 2","m":"SAEM","t":0.889,"v":58.5},{"n":"100","s":"Shape 2","m":"SAEM","t":0.911,"v":34.4},{"n":"100","s":"Shape 2","m":"SAEM","t":0.922,"v":29.3},{"n":"100","s":"Shape 2","m":"SAEM","t":0.958,"v":52.3},{"n":"100","s":"Shape 2","m":"SAEM","t":0.977,"v":41.3},{"n":"100","s":"Shape 2","m":"SAEM","t":0.991,"v":24.8},{"n":"100","s":"Shape 2","m":"SAEM","t":1,"v":44.8},
{"n":"100","s":"Shape 2","m":"BHCR","t":0,"v":5.2},{"n":"100","s":"Shape 2","m":"BHCR","t":0.016,"v":17.2},{"n":"100","s":"Shape 2","m":"BHCR","t":0.038,"v":31},{"n":"100","s":"Shape 2","m":"BHCR","t":0.067,"v":43},{"n":"100","s":"Shape 2","m":"BHCR","t":0.1,"v":50},{"n":"100","s":"Shape 2","m":"BHCR","t":0.126,"v":41.3},{"n":"100","s":"Shape 2","m":"BHCR","t":0.148,"v":25.8},{"n":"100","s":"Shape 2","m":"BHCR","t":0.17,"v":48.2},{"n":"100","s":"Shape 2","m":"BHCR","t":0.192,"v":86},{"n":"100","s":"Shape 2","m":"BHCR","t":0.214,"v":124},{"n":"100","s":"Shape 2","m":"BHCR","t":0.236,"v":155},{"n":"100","s":"Shape 2","m":"BHCR","t":0.265,"v":180.8},{"n":"100","s":"Shape 2","m":"BHCR","t":0.295,"v":172},{"n":"100","s":"Shape 2","m":"BHCR","t":0.324,"v":144.6},{"n":"100","s":"Shape 2","m":"BHCR","t":0.353,"v":120.5},{"n":"100","s":"Shape 2","m":"BHCR","t":0.375,"v":110.2},{"n":"100","s":"Shape 2","m":"BHCR","t":0.405,"v":127.4},{"n":"100","s":"Shape 2","m":"BHCR","t":0.434,"v":155},{"n":"100","s":"Shape 2","m":"BHCR","t":0.463,"v":175.6},{"n":"100","s":"Shape 2","m":"BHCR","t":0.489,"v":184.2},{"n":"100","s":"Shape 2","m":"BHCR","t":0.507,"v":168.7},{"n":"100","s":"Shape 2","m":"BHCR","t":0.529,"v":134.3},{"n":"100","s":"Shape 2","m":"BHCR","t":0.551,"v":96.4},{"n":"100","s":"Shape 2","m":"BHCR","t":0.577,"v":72.3},{"n":"100","s":"Shape 2","m":"BHCR","t":0.603,"v":99.9},{"n":"100","s":"Shape 2","m":"BHCR","t":0.625,"v":113.6},{"n":"100","s":"Shape 2","m":"BHCR","t":0.647,"v":93},{"n":"100","s":"Shape 2","m":"BHCR","t":0.676,"v":51.7},{"n":"100","s":"Shape 2","m":"BHCR","t":0.698,"v":29.3},{"n":"100","s":"Shape 2","m":"BHCR","t":0.72,"v":58.5},{"n":"100","s":"Shape 2","m":"BHCR","t":0.749,"v":81},{"n":"100","s":"Shape 2","m":"BHCR","t":0.771,"v":62},{"n":"100","s":"Shape 2","m":"BHCR","t":0.8,"v":19},{"n":"100","s":"Shape 2","m":"BHCR","t":0.83,"v":68.9},{"n":"100","s":"Shape 2","m":"BHCR","t":0.863,"v":110.2},{"n":"100","s":"Shape 2","m":"BHCR","t":0.889,"v":86},{"n":"100","s":"Shape 2","m":"BHCR","t":0.911,"v":37.9},{"n":"100","s":"Shape 2","m":"BHCR","t":0.929,"v":13.8},{"n":"100","s":"Shape 2","m":"BHCR","t":0.958,"v":48.9},{"n":"100","s":"Shape 2","m":"BHCR","t":0.977,"v":41.3},{"n":"100","s":"Shape 2","m":"BHCR","t":1,"v":6.9},
{"n":"100","s":"Shape 2","m":"BL2004","t":0,"v":96.4},{"n":"100","s":"Shape 2","m":"BL2004","t":0.009,"v":82.6},{"n":"100","s":"Shape 2","m":"BL2004","t":0.031,"v":89.5},{"n":"100","s":"Shape 2","m":"BL2004","t":0.045,"v":103.3},{"n":"100","s":"Shape 2","m":"BL2004","t":0.067,"v":141.2},{"n":"100","s":"Shape 2","m":"BL2004","t":0.089,"v":206.6},{"n":"100","s":"Shape 2","m":"BL2004","t":0.108,"v":251.4},{"n":"100","s":"Shape 2","m":"BL2004","t":0.126,"v":273.8},{"n":"100","s":"Shape 2","m":"BL2004","t":0.148,"v":270.3},{"n":"100","s":"Shape 2","m":"BL2004","t":0.163,"v":237.6},{"n":"100","s":"Shape 2","m":"BL2004","t":0.177,"v":196.3},{"n":"100","s":"Shape 2","m":"BL2004","t":0.192,"v":151.5},{"n":"100","s":"Shape 2","m":"BL2004","t":0.207,"v":117},{"n":"100","s":"Shape 2","m":"BL2004","t":0.221,"v":93},{"n":"100","s":"Shape 2","m":"BL2004","t":0.236,"v":103.3},{"n":"100","s":"Shape 2","m":"BL2004","t":0.251,"v":158.4},{"n":"100","s":"Shape 2","m":"BL2004","t":0.265,"v":210},{"n":"100","s":"Shape 2","m":"BL2004","t":0.28,"v":265},{"n":"100","s":"Shape 2","m":"BL2004","t":0.295,"v":327},{"n":"100","s":"Shape 2","m":"BL2004","t":0.309,"v":375},{"n":"100","s":"Shape 2","m":"BL2004","t":0.324,"v":413},{"n":"100","s":"Shape 2","m":"BL2004","t":0.339,"v":447.7},{"n":"100","s":"Shape 2","m":"BL2004","t":0.361,"v":475},{"n":"100","s":"Shape 2","m":"BL2004","t":0.386,"v":480.4},{"n":"100","s":"Shape 2","m":"BL2004","t":0.412,"v":454.5},{"n":"100","s":"Shape 2","m":"BL2004","t":0.434,"v":403},{"n":"100","s":"Shape 2","m":"BL2004","t":0.449,"v":361.6},{"n":"100","s":"Shape 2","m":"BL2004","t":0.463,"v":303},{"n":"100","s":"Shape 2","m":"BL2004","t":0.478,"v":251.4},{"n":"100","s":"Shape 2","m":"BL2004","t":0.493,"v":196.3},{"n":"100","s":"Shape 2","m":"BL2004","t":0.507,"v":155},{"n":"100","s":"Shape 2","m":"BL2004","t":0.522,"v":120.5},{"n":"100","s":"Shape 2","m":"BL2004","t":0.537,"v":89.5},{"n":"100","s":"Shape 2","m":"BL2004","t":0.559,"v":113.6},{"n":"100","s":"Shape 2","m":"BL2004","t":0.581,"v":158.4},{"n":"100","s":"Shape 2","m":"BL2004","t":0.617,"v":203.2},{"n":"100","s":"Shape 2","m":"BL2004","t":0.639,"v":192.8},{"n":"100","s":"Shape 2","m":"BL2004","t":0.654,"v":172.2},{"n":"100","s":"Shape 2","m":"BL2004","t":0.676,"v":134.3},{"n":"100","s":"Shape 2","m":"BL2004","t":0.705,"v":115.4},{"n":"100","s":"Shape 2","m":"BL2004","t":0.749,"v":137.7},{"n":"100","s":"Shape 2","m":"BL2004","t":0.779,"v":179},{"n":"100","s":"Shape 2","m":"BL2004","t":0.801,"v":230.7},{"n":"100","s":"Shape 2","m":"BL2004","t":0.823,"v":279},{"n":"100","s":"Shape 2","m":"BL2004","t":0.848,"v":310},{"n":"100","s":"Shape 2","m":"BL2004","t":0.867,"v":292.7},{"n":"100","s":"Shape 2","m":"BL2004","t":0.881,"v":230.7},{"n":"100","s":"Shape 2","m":"BL2004","t":0.896,"v":155},{"n":"100","s":"Shape 2","m":"BL2004","t":0.911,"v":99.9},{"n":"100","s":"Shape 2","m":"BL2004","t":0.933,"v":155},{"n":"100","s":"Shape 2","m":"BL2004","t":0.951,"v":189.4},{"n":"100","s":"Shape 2","m":"BL2004","t":0.962,"v":172},{"n":"100","s":"Shape 2","m":"BL2004","t":0.984,"v":84.4},{"n":"100","s":"Shape 2","m":"BL2004","t":0.991,"v":155},{"n":"100","s":"Shape 2","m":"BL2004","t":1,"v":261.7},
{"n":"100","s":"Shape 2","m":"PAVPOP","t":0,"v":18.9},{"n":"100","s":"Shape 2","m":"PAVPOP","t":0.016,"v":31},{"n":"100","s":"Shape 2","m":"PAVPOP","t":0.038,"v":36.2},{"n":"100","s":"Shape 2","m":"PAVPOP","t":0.06,"v":34.4},{"n":"100","s":"Shape 2","m":"PAVPOP","t":0.089,"v":44.8},{"n":"100","s":"Shape 2","m":"PAVPOP","t":0.111,"v":62},{"n":"100","s":"Shape 2","m":"PAVPOP","t":0.141,"v":89.5},{"n":"100","s":"Shape 2","m":"PAVPOP","t":0.17,"v":113.6},{"n":"100","s":"Shape 2","m":"PAVPOP","t":0.2,"v":130.9},{"n":"100","s":"Shape 2","m":"PAVPOP","t":0.236,"v":141.2},{"n":"100","s":"Shape 2","m":"PAVPOP","t":0.258,"v":134.3},{"n":"100","s":"Shape 2","m":"PAVPOP","t":0.28,"v":113.6},{"n":"100","s":"Shape 2","m":"PAVPOP","t":0.309,"v":86},{"n":"100","s":"Shape 2","m":"PAVPOP","t":0.335,"v":80.9},{"n":"100","s":"Shape 2","m":"PAVPOP","t":0.361,"v":93},{"n":"100","s":"Shape 2","m":"PAVPOP","t":0.39,"v":120.5},{"n":"100","s":"Shape 2","m":"PAVPOP","t":0.419,"v":144.6},{"n":"100","s":"Shape 2","m":"PAVPOP","t":0.452,"v":160},{"n":"100","s":"Shape 2","m":"PAVPOP","t":0.485,"v":155},{"n":"100","s":"Shape 2","m":"PAVPOP","t":0.507,"v":137.7},{"n":"100","s":"Shape 2","m":"PAVPOP","t":0.529,"v":106.7},{"n":"100","s":"Shape 2","m":"PAVPOP","t":0.555,"v":86},{"n":"100","s":"Shape 2","m":"PAVPOP","t":0.581,"v":99.9},{"n":"100","s":"Shape 2","m":"PAVPOP","t":0.61,"v":113.6},{"n":"100","s":"Shape 2","m":"PAVPOP","t":0.632,"v":110.2},{"n":"100","s":"Shape 2","m":"PAVPOP","t":0.654,"v":93},{"n":"100","s":"Shape 2","m":"PAVPOP","t":0.676,"v":58.5},{"n":"100","s":"Shape 2","m":"PAVPOP","t":0.694,"v":43},{"n":"100","s":"Shape 2","m":"PAVPOP","t":0.713,"v":58.5},{"n":"100","s":"Shape 2","m":"PAVPOP","t":0.746,"v":84.4},{"n":"100","s":"Shape 2","m":"PAVPOP","t":0.771,"v":62},{"n":"100","s":"Shape 2","m":"PAVPOP","t":0.8,"v":34.4},{"n":"100","s":"Shape 2","m":"PAVPOP","t":0.83,"v":75.8},{"n":"100","s":"Shape 2","m":"PAVPOP","t":0.867,"v":110.2},{"n":"100","s":"Shape 2","m":"PAVPOP","t":0.889,"v":89.5},{"n":"100","s":"Shape 2","m":"PAVPOP","t":0.911,"v":48.2},{"n":"100","s":"Shape 2","m":"PAVPOP","t":0.933,"v":18.9},{"n":"100","s":"Shape 2","m":"PAVPOP","t":0.955,"v":44.8},{"n":"100","s":"Shape 2","m":"PAVPOP","t":0.966,"v":48.2},{"n":"100","s":"Shape 2","m":"PAVPOP","t":0.984,"v":34.4},{"n":"100","s":"Shape 2","m":"PAVPOP","t":1,"v":10.3},
{"n":"1000","s":"Shape 2","m":"SAEM","t":0,"v":56.8},{"n":"1000","s":"Shape 2","m":"SAEM","t":0.015,"v":46.5},{"n":"1000","s":"Shape 2","m":"SAEM","t":0.033,"v":43},{"n":"1000","s":"Shape 2","m":"SAEM","t":0.062,"v":48.2},{"n":"1000","s":"Shape 2","m":"SAEM","t":0.092,"v":55},{"n":"1000","s":"Shape 2","m":"SAEM","t":0.121,"v":60.3},{"n":"1000","s":"Shape 2","m":"SAEM","t":0.15,"v":58.5},{"n":"1000","s":"Shape 2","m":"SAEM","t":0.172,"v":56.8},{"n":"1000","s":"Shape 2","m":"SAEM","t":0.194,"v":65.4},{"n":"1000","s":"Shape 2","m":"SAEM","t":0.224,"v":82.6},{"n":"1000","s":"Shape 2","m":"SAEM","t":0.253,"v":96.4},{"n":"1000","s":"Shape 2","m":"SAEM","t":0.282,"v":105},{"n":"1000","s":"Shape 2","m":"SAEM","t":0.319,"v":111.9},{"n":"1000","s":"Shape 2","m":"SAEM","t":0.374,"v":118.8},{"n":"1000","s":"Shape 2","m":"SAEM","t":0.407,"v":115.4},{"n":"1000","s":"Shape 2","m":"SAEM","t":0.444,"v":108.5},{"n":"1000","s":"Shape 2","m":"SAEM","t":0.473,"v":99.9},{"n":"1000","s":"Shape 2","m":"SAEM","t":0.495,"v":86},{"n":"1000","s":"Shape 2","m":"SAEM","t":0.517,"v":68.9},{"n":"1000","s":"Shape 2","m":"SAEM","t":0.536,"v":55},{"n":"1000","s":"Shape 2","m":"SAEM","t":0.554,"v":49.9},{"n":"1000","s":"Shape 2","m":"SAEM","t":0.576,"v":58.5},{"n":"1000","s":"Shape 2","m":"SAEM","t":0.598,"v":72.3},{"n":"1000","s":"Shape 2","m":"SAEM","t":0.618,"v":77.5},{"n":"1000","s":"Shape 2","m":"SAEM","t":0.642,"v":65.4},{"n":"1000","s":"Shape 2","m":"SAEM","t":0.664,"v":41.3},{"n":"1000","s":"Shape 2","m":"SAEM","t":0.679,"v":24.1},{"n":"1000","s":"Shape 2","m":"SAEM","t":0.697,"v":17.2},{"n":"1000","s":"Shape 2","m":"SAEM","t":0.715,"v":31},{"n":"1000","s":"Shape 2","m":"SAEM","t":0.745,"v":40.3},{"n":"1000","s":"Shape 2","m":"SAEM","t":0.767,"v":31},{"n":"1000","s":"Shape 2","m":"SAEM","t":0.789,"v":18.9},{"n":"1000","s":"Shape 2","m":"SAEM","t":0.811,"v":34.4},{"n":"1000","s":"Shape 2","m":"SAEM","t":0.833,"v":62},{"n":"1000","s":"Shape 2","m":"SAEM","t":0.858,"v":76.4},{"n":"1000","s":"Shape 2","m":"SAEM","t":0.877,"v":65.4},{"n":"1000","s":"Shape 2","m":"SAEM","t":0.899,"v":37.9},{"n":"1000","s":"Shape 2","m":"SAEM","t":0.913,"v":29.3},{"n":"1000","s":"Shape 2","m":"SAEM","t":0.935,"v":51.7},{"n":"1000","s":"Shape 2","m":"SAEM","t":0.954,"v":59.2},{"n":"1000","s":"Shape 2","m":"SAEM","t":0.972,"v":44.8},{"n":"1000","s":"Shape 2","m":"SAEM","t":0.987,"v":20.7},{"n":"1000","s":"Shape 2","m":"SAEM","t":1,"v":58.5},
{"n":"1000","s":"Shape 2","m":"BHCR","t":0,"v":12.1},{"n":"1000","s":"Shape 2","m":"BHCR","t":0.011,"v":6.9},{"n":"1000","s":"Shape 2","m":"BHCR","t":0.033,"v":18.9},{"n":"1000","s":"Shape 2","m":"BHCR","t":0.062,"v":34.4},{"n":"1000","s":"Shape 2","m":"BHCR","t":0.095,"v":48.2},{"n":"1000","s":"Shape 2","m":"BHCR","t":0.121,"v":41.3},{"n":"1000","s":"Shape 2","m":"BHCR","t":0.15,"v":29.3},{"n":"1000","s":"Shape 2","m":"BHCR","t":0.172,"v":55},{"n":"1000","s":"Shape 2","m":"BHCR","t":0.194,"v":93},{"n":"1000","s":"Shape 2","m":"BHCR","t":0.216,"v":134.3},{"n":"1000","s":"Shape 2","m":"BHCR","t":0.238,"v":165.3},{"n":"1000","s":"Shape 2","m":"BHCR","t":0.264,"v":180.8},{"n":"1000","s":"Shape 2","m":"BHCR","t":0.29,"v":172.2},{"n":"1000","s":"Shape 2","m":"BHCR","t":0.319,"v":141.2},{"n":"1000","s":"Shape 2","m":"BHCR","t":0.341,"v":117},{"n":"1000","s":"Shape 2","m":"BHCR","t":0.367,"v":96.4},{"n":"1000","s":"Shape 2","m":"BHCR","t":0.393,"v":99.9},{"n":"1000","s":"Shape 2","m":"BHCR","t":0.422,"v":130.9},{"n":"1000","s":"Shape 2","m":"BHCR","t":0.451,"v":158.4},{"n":"1000","s":"Shape 2","m":"BHCR","t":0.484,"v":184.2},{"n":"1000","s":"Shape 2","m":"BHCR","t":0.51,"v":165.3},{"n":"1000","s":"Shape 2","m":"BHCR","t":0.532,"v":127.4},{"n":"1000","s":"Shape 2","m":"BHCR","t":0.554,"v":86},{"n":"1000","s":"Shape 2","m":"BHCR","t":0.576,"v":68.9},{"n":"1000","s":"Shape 2","m":"BHCR","t":0.598,"v":99.9},{"n":"1000","s":"Shape 2","m":"BHCR","t":0.62,"v":107},{"n":"1000","s":"Shape 2","m":"BHCR","t":0.645,"v":85},{"n":"1000","s":"Shape 2","m":"BHCR","t":0.67,"v":50},{"n":"1000","s":"Shape 2","m":"BHCR","t":0.704,"v":24},{"n":"1000","s":"Shape 2","m":"BHCR","t":0.73,"v":55},{"n":"1000","s":"Shape 2","m":"BHCR","t":0.752,"v":75.8},{"n":"1000","s":"Shape 2","m":"BHCR","t":0.775,"v":60},{"n":"1000","s":"Shape 2","m":"BHCR","t":0.8,"v":22.4},{"n":"1000","s":"Shape 2","m":"BHCR","t":0.83,"v":60},{"n":"1000","s":"Shape 2","m":"BHCR","t":0.866,"v":103.3},{"n":"1000","s":"Shape 2","m":"BHCR","t":0.89,"v":75},{"n":"1000","s":"Shape 2","m":"BHCR","t":0.91,"v":35},{"n":"1000","s":"Shape 2","m":"BHCR","t":0.928,"v":13.8},{"n":"1000","s":"Shape 2","m":"BHCR","t":0.95,"v":40},{"n":"1000","s":"Shape 2","m":"BHCR","t":0.968,"v":50},{"n":"1000","s":"Shape 2","m":"BHCR","t":0.985,"v":35},{"n":"1000","s":"Shape 2","m":"BHCR","t":1,"v":8.6},
{"n":"1000","s":"Shape 2","m":"BL2004","t":0,"v":18.9},{"n":"1000","s":"Shape 2","m":"BL2004","t":0.018,"v":10.3},{"n":"1000","s":"Shape 2","m":"BL2004","t":0.048,"v":24.1},{"n":"1000","s":"Shape 2","m":"BL2004","t":0.07,"v":41.3},{"n":"1000","s":"Shape 2","m":"BL2004","t":0.092,"v":58.5},{"n":"1000","s":"Shape 2","m":"BL2004","t":0.11,"v":80.9},{"n":"1000","s":"Shape 2","m":"BL2004","t":0.128,"v":72.3},{"n":"1000","s":"Shape 2","m":"BL2004","t":0.15,"v":51.7},{"n":"1000","s":"Shape 2","m":"BL2004","t":0.183,"v":31},{"n":"1000","s":"Shape 2","m":"BL2004","t":0.209,"v":48.2},{"n":"1000","s":"Shape 2","m":"BL2004","t":0.231,"v":79.2},{"n":"1000","s":"Shape 2","m":"BL2004","t":0.253,"v":99.9},{"n":"1000","s":"Shape 2","m":"BL2004","t":0.275,"v":110.2},{"n":"1000","s":"Shape 2","m":"BL2004","t":0.304,"v":103.3},{"n":"1000","s":"Shape 2","m":"BL2004","t":0.334,"v":82.6},{"n":"1000","s":"Shape 2","m":"BL2004","t":0.363,"v":58.5},{"n":"1000","s":"Shape 2","m":"BL2004","t":0.4,"v":48.2},{"n":"1000","s":"Shape 2","m":"BL2004","t":0.437,"v":53.4},{"n":"1000","s":"Shape 2","m":"BL2004","t":0.481,"v":68.9},{"n":"1000","s":"Shape 2","m":"BL2004","t":0.51,"v":86},{"n":"1000","s":"Shape 2","m":"BL2004","t":0.532,"v":110.2},{"n":"1000","s":"Shape 2","m":"BL2004","t":0.554,"v":137.7},{"n":"1000","s":"Shape 2","m":"BL2004","t":0.576,"v":168.7},{"n":"1000","s":"Shape 2","m":"BL2004","t":0.605,"v":196.3},{"n":"1000","s":"Shape 2","m":"BL2004","t":0.627,"v":182.5},{"n":"1000","s":"Shape 2","m":"BL2004","t":0.642,"v":144.6},{"n":"1000","s":"Shape 2","m":"BL2004","t":0.657,"v":86},{"n":"1000","s":"Shape 2","m":"BL2004","t":0.671,"v":41.3},{"n":"1000","s":"Shape 2","m":"BL2004","t":0.693,"v":18.9},{"n":"1000","s":"Shape 2","m":"BL2004","t":0.715,"v":68.9},{"n":"1000","s":"Shape 2","m":"BL2004","t":0.752,"v":106.7},{"n":"1000","s":"Shape 2","m":"BL2004","t":0.774,"v":72.3},{"n":"1000","s":"Shape 2","m":"BL2004","t":0.796,"v":15.5},{"n":"1000","s":"Shape 2","m":"BL2004","t":0.818,"v":65.4},{"n":"1000","s":"Shape 2","m":"BL2004","t":0.833,"v":113.6},{"n":"1000","s":"Shape 2","m":"BL2004","t":0.851,"v":139.5},{"n":"1000","s":"Shape 2","m":"BL2004","t":0.877,"v":120.5},{"n":"1000","s":"Shape 2","m":"BL2004","t":0.891,"v":68.9},{"n":"1000","s":"Shape 2","m":"BL2004","t":0.913,"v":12.1},{"n":"1000","s":"Shape 2","m":"BL2004","t":0.928,"v":86},{"n":"1000","s":"Shape 2","m":"BL2004","t":0.95,"v":130.2},{"n":"1000","s":"Shape 2","m":"BL2004","t":0.972,"v":110.2},{"n":"1000","s":"Shape 2","m":"BL2004","t":0.99,"v":13.8},{"n":"1000","s":"Shape 2","m":"BL2004","t":1,"v":117},
{"n":"1000","s":"Shape 2","m":"PAVPOP","t":0,"v":17.2},{"n":"1000","s":"Shape 2","m":"PAVPOP","t":0.018,"v":37.9},{"n":"1000","s":"Shape 2","m":"PAVPOP","t":0.048,"v":41.3},{"n":"1000","s":"Shape 2","m":"PAVPOP","t":0.077,"v":44.8},{"n":"1000","s":"Shape 2","m":"PAVPOP","t":0.106,"v":68.9},{"n":"1000","s":"Shape 2","m":"PAVPOP","t":0.128,"v":96.4},{"n":"1000","s":"Shape 2","m":"PAVPOP","t":0.15,"v":113.6},{"n":"1000","s":"Shape 2","m":"PAVPOP","t":0.18,"v":125.7},{"n":"1000","s":"Shape 2","m":"PAVPOP","t":0.202,"v":129.1},{"n":"1000","s":"Shape 2","m":"PAVPOP","t":0.231,"v":127.4},{"n":"1000","s":"Shape 2","m":"PAVPOP","t":0.26,"v":117},{"n":"1000","s":"Shape 2","m":"PAVPOP","t":0.29,"v":103.3},{"n":"1000","s":"Shape 2","m":"PAVPOP","t":0.326,"v":98.1},{"n":"1000","s":"Shape 2","m":"PAVPOP","t":0.356,"v":120.5},{"n":"1000","s":"Shape 2","m":"PAVPOP","t":0.385,"v":137.7},{"n":"1000","s":"Shape 2","m":"PAVPOP","t":0.437,"v":148},{"n":"1000","s":"Shape 2","m":"PAVPOP","t":0.473,"v":137.7},{"n":"1000","s":"Shape 2","m":"PAVPOP","t":0.503,"v":117},{"n":"1000","s":"Shape 2","m":"PAVPOP","t":0.539,"v":99.9},{"n":"1000","s":"Shape 2","m":"PAVPOP","t":0.569,"v":113.6},{"n":"1000","s":"Shape 2","m":"PAVPOP","t":0.605,"v":132.6},{"n":"1000","s":"Shape 2","m":"PAVPOP","t":0.627,"v":124},{"n":"1000","s":"Shape 2","m":"PAVPOP","t":0.649,"v":93},{"n":"1000","s":"Shape 2","m":"PAVPOP","t":0.671,"v":62},{"n":"1000","s":"Shape 2","m":"PAVPOP","t":0.69,"v":44.8},{"n":"1000","s":"Shape 2","m":"PAVPOP","t":0.715,"v":68.9},{"n":"1000","s":"Shape 2","m":"PAVPOP","t":0.756,"v":89.5},{"n":"1000","s":"Shape 2","m":"PAVPOP","t":0.774,"v":75.8},{"n":"1000","s":"Shape 2","m":"PAVPOP","t":0.803,"v":29.3},{"n":"1000","s":"Shape 2","m":"PAVPOP","t":0.825,"v":75.8},{"n":"1000","s":"Shape 2","m":"PAVPOP","t":0.869,"v":122.2},{"n":"1000","s":"Shape 2","m":"PAVPOP","t":0.891,"v":86},{"n":"1000","s":"Shape 2","m":"PAVPOP","t":0.924,"v":27.5},{"n":"1000","s":"Shape 2","m":"PAVPOP","t":0.95,"v":40},{"n":"1000","s":"Shape 2","m":"PAVPOP","t":0.972,"v":50},{"n":"1000","s":"Shape 2","m":"PAVPOP","t":1,"v":17.2},
{"n":"2000","s":"Shape 2","m":"SAEM","t":0,"v":56.8},{"n":"2000","s":"Shape 2","m":"SAEM","t":0.026,"v":43},{"n":"2000","s":"Shape 2","m":"SAEM","t":0.055,"v":46.5},{"n":"2000","s":"Shape 2","m":"SAEM","t":0.092,"v":55},{"n":"2000","s":"Shape 2","m":"SAEM","t":0.125,"v":62},{"n":"2000","s":"Shape 2","m":"SAEM","t":0.158,"v":60.3},{"n":"2000","s":"Shape 2","m":"SAEM","t":0.188,"v":62},{"n":"2000","s":"Shape 2","m":"SAEM","t":0.217,"v":75.8},{"n":"2000","s":"Shape 2","m":"SAEM","t":0.254,"v":91.2},{"n":"2000","s":"Shape 2","m":"SAEM","t":0.298,"v":101.6},{"n":"2000","s":"Shape 2","m":"SAEM","t":0.342,"v":111.9},{"n":"2000","s":"Shape 2","m":"SAEM","t":0.393,"v":117.8},{"n":"2000","s":"Shape 2","m":"SAEM","t":0.43,"v":113.6},{"n":"2000","s":"Shape 2","m":"SAEM","t":0.46,"v":106.7},{"n":"2000","s":"Shape 2","m":"SAEM","t":0.489,"v":89.5},{"n":"2000","s":"Shape 2","m":"SAEM","t":0.511,"v":68.9},{"n":"2000","s":"Shape 2","m":"SAEM","t":0.533,"v":51.7},{"n":"2000","s":"Shape 2","m":"SAEM","t":0.551,"v":46.5},{"n":"2000","s":"Shape 2","m":"SAEM","t":0.577,"v":62},{"n":"2000","s":"Shape 2","m":"SAEM","t":0.618,"v":78.5},{"n":"2000","s":"Shape 2","m":"SAEM","t":0.643,"v":58.5},{"n":"2000","s":"Shape 2","m":"SAEM","t":0.665,"v":34.4},{"n":"2000","s":"Shape 2","m":"SAEM","t":0.695,"v":17.2},{"n":"2000","s":"Shape 2","m":"SAEM","t":0.717,"v":31},{"n":"2000","s":"Shape 2","m":"SAEM","t":0.746,"v":41.3},{"n":"2000","s":"Shape 2","m":"SAEM","t":0.768,"v":31},{"n":"2000","s":"Shape 2","m":"SAEM","t":0.79,"v":18.9},{"n":"2000","s":"Shape 2","m":"SAEM","t":0.82,"v":48.2},{"n":"2000","s":"Shape 2","m":"SAEM","t":0.86,"v":77.5},{"n":"2000","s":"Shape 2","m":"SAEM","t":0.886,"v":55},{"n":"2000","s":"Shape 2","m":"SAEM","t":0.912,"v":29.3},{"n":"2000","s":"Shape 2","m":"SAEM","t":0.956,"v":59.2},{"n":"2000","s":"Shape 2","m":"SAEM","t":0.974,"v":44.8},{"n":"2000","s":"Shape 2","m":"SAEM","t":0.985,"v":20.7},{"n":"2000","s":"Shape 2","m":"SAEM","t":1,"v":58.5},
{"n":"2000","s":"Shape 2","m":"BHCR","t":0,"v":13.8},{"n":"2000","s":"Shape 2","m":"BHCR","t":0.011,"v":5.2},{"n":"2000","s":"Shape 2","m":"BHCR","t":0.033,"v":20.7},{"n":"2000","s":"Shape 2","m":"BHCR","t":0.062,"v":34.4},{"n":"2000","s":"Shape 2","m":"BHCR","t":0.096,"v":44.8},{"n":"2000","s":"Shape 2","m":"BHCR","t":0.121,"v":36.2},{"n":"2000","s":"Shape 2","m":"BHCR","t":0.151,"v":22.4},{"n":"2000","s":"Shape 2","m":"BHCR","t":0.173,"v":55},{"n":"2000","s":"Shape 2","m":"BHCR","t":0.195,"v":103.3},{"n":"2000","s":"Shape 2","m":"BHCR","t":0.217,"v":148},{"n":"2000","s":"Shape 2","m":"BHCR","t":0.239,"v":172.2},{"n":"2000","s":"Shape 2","m":"BHCR","t":0.268,"v":179},{"n":"2000","s":"Shape 2","m":"BHCR","t":0.298,"v":161.8},{"n":"2000","s":"Shape 2","m":"BHCR","t":0.327,"v":134.3},{"n":"2000","s":"Shape 2","m":"BHCR","t":0.357,"v":110.2},{"n":"2000","s":"Shape 2","m":"BHCR","t":0.393,"v":99.9},{"n":"2000","s":"Shape 2","m":"BHCR","t":0.423,"v":124},{"n":"2000","s":"Shape 2","m":"BHCR","t":0.452,"v":158.4},{"n":"2000","s":"Shape 2","m":"BHCR","t":0.485,"v":188.7},{"n":"2000","s":"Shape 2","m":"BHCR","t":0.511,"v":168.7},{"n":"2000","s":"Shape 2","m":"BHCR","t":0.533,"v":127.4},{"n":"2000","s":"Shape 2","m":"BHCR","t":0.555,"v":89.5},{"n":"2000","s":"Shape 2","m":"BHCR","t":0.574,"v":70.6},{"n":"2000","s":"Shape 2","m":"BHCR","t":0.592,"v":89.5},{"n":"2000","s":"Shape 2","m":"BHCR","t":0.614,"v":108.5},{"n":"2000","s":"Shape 2","m":"BHCR","t":0.636,"v":99.9},{"n":"2000","s":"Shape 2","m":"BHCR","t":0.658,"v":62},{"n":"2000","s":"Shape 2","m":"BHCR","t":0.691,"v":27.5},{"n":"2000","s":"Shape 2","m":"BHCR","t":0.717,"v":58.5},{"n":"2000","s":"Shape 2","m":"BHCR","t":0.746,"v":81},{"n":"2000","s":"Shape 2","m":"BHCR","t":0.768,"v":65.4},{"n":"2000","s":"Shape 2","m":"BHCR","t":0.798,"v":18.9},{"n":"2000","s":"Shape 2","m":"BHCR","t":0.827,"v":65.4},{"n":"2000","s":"Shape 2","m":"BHCR","t":0.864,"v":113.6},{"n":"2000","s":"Shape 2","m":"BHCR","t":0.886,"v":86},{"n":"2000","s":"Shape 2","m":"BHCR","t":0.908,"v":37.9},{"n":"2000","s":"Shape 2","m":"BHCR","t":0.93,"v":13.8},{"n":"2000","s":"Shape 2","m":"BHCR","t":0.952,"v":37.9},{"n":"2000","s":"Shape 2","m":"BHCR","t":0.971,"v":44.8},{"n":"2000","s":"Shape 2","m":"BHCR","t":0.989,"v":27.5},{"n":"2000","s":"Shape 2","m":"BHCR","t":1,"v":10.3},
{"n":"2000","s":"Shape 2","m":"BL2004","t":0,"v":15.5},{"n":"2000","s":"Shape 2","m":"BL2004","t":0.015,"v":5.2},{"n":"2000","s":"Shape 2","m":"BL2004","t":0.04,"v":13.8},{"n":"2000","s":"Shape 2","m":"BL2004","t":0.062,"v":24.1},{"n":"2000","s":"Shape 2","m":"BL2004","t":0.092,"v":55},{"n":"2000","s":"Shape 2","m":"BL2004","t":0.125,"v":72.3},{"n":"2000","s":"Shape 2","m":"BL2004","t":0.151,"v":62},{"n":"2000","s":"Shape 2","m":"BL2004","t":0.173,"v":56.8},{"n":"2000","s":"Shape 2","m":"BL2004","t":0.195,"v":68.9},{"n":"2000","s":"Shape 2","m":"BL2004","t":0.217,"v":99.9},{"n":"2000","s":"Shape 2","m":"BL2004","t":0.254,"v":129.1},{"n":"2000","s":"Shape 2","m":"BL2004","t":0.283,"v":124},{"n":"2000","s":"Shape 2","m":"BL2004","t":0.313,"v":99.9},{"n":"2000","s":"Shape 2","m":"BL2004","t":0.357,"v":70.6},{"n":"2000","s":"Shape 2","m":"BL2004","t":0.386,"v":75.8},{"n":"2000","s":"Shape 2","m":"BL2004","t":0.423,"v":94.7},{"n":"2000","s":"Shape 2","m":"BL2004","t":0.46,"v":103.3},{"n":"2000","s":"Shape 2","m":"BL2004","t":0.496,"v":98.1},{"n":"2000","s":"Shape 2","m":"BL2004","t":0.533,"v":91.2},{"n":"2000","s":"Shape 2","m":"BL2004","t":0.555,"v":103.3},{"n":"2000","s":"Shape 2","m":"BL2004","t":0.577,"v":134.3},{"n":"2000","s":"Shape 2","m":"BL2004","t":0.607,"v":153.2},{"n":"2000","s":"Shape 2","m":"BL2004","t":0.629,"v":141.2},{"n":"2000","s":"Shape 2","m":"BL2004","t":0.643,"v":113.6},{"n":"2000","s":"Shape 2","m":"BL2004","t":0.658,"v":68.9},{"n":"2000","s":"Shape 2","m":"BL2004","t":0.673,"v":34.4},{"n":"2000","s":"Shape 2","m":"BL2004","t":0.688,"v":13.8},{"n":"2000","s":"Shape 2","m":"BL2004","t":0.71,"v":51.7},{"n":"2000","s":"Shape 2","m":"BL2004","t":0.75,"v":97.1},{"n":"2000","s":"Shape 2","m":"BL2004","t":0.768,"v":68.9},{"n":"2000","s":"Shape 2","m":"BL2004","t":0.79,"v":15.5},{"n":"2000","s":"Shape 2","m":"BL2004","t":0.813,"v":68.9},{"n":"2000","s":"Shape 2","m":"BL2004","t":0.835,"v":120.5},{"n":"2000","s":"Shape 2","m":"BL2004","t":0.853,"v":146.3},{"n":"2000","s":"Shape 2","m":"BL2004","t":0.871,"v":127.4},{"n":"2000","s":"Shape 2","m":"BL2004","t":0.893,"v":58.5},{"n":"2000","s":"Shape 2","m":"BL2004","t":0.912,"v":15.5},{"n":"2000","s":"Shape 2","m":"BL2004","t":0.93,"v":86},{"n":"2000","s":"Shape 2","m":"BL2004","t":0.952,"v":146.3},{"n":"2000","s":"Shape 2","m":"BL2004","t":0.974,"v":120.5},{"n":"2000","s":"Shape 2","m":"BL2004","t":0.989,"v":20.7},{"n":"2000","s":"Shape 2","m":"BL2004","t":1,"v":111.9}
]},
"spacing": 0,
"vconcat": [
 {"spacing": 0, "bounds": "flush", "hconcat": [
  {"width": 500, "height": 71, "view": {"fill": "#D9D9D9"}, "data": {"values": [{"label": "100"}]}, "mark": {"type": "text", "fontSize": 36, "color": "#1A1A1A", "dy": 2}, "encoding": {"text": {"field": "label", "type": "nominal"}}},
  {"width": 23, "height": 10, "data": {"values": [{"label": ""}]}, "mark": {"type": "text"}, "encoding": {"text": {"field": "label", "type": "nominal"}}},
  {"width": 500, "height": 71, "view": {"fill": "#D9D9D9"}, "data": {"values": [{"label": "1000"}]}, "mark": {"type": "text", "fontSize": 36, "color": "#1A1A1A", "dy": 2}, "encoding": {"text": {"field": "label", "type": "nominal"}}},
  {"width": 23, "height": 10, "data": {"values": [{"label": ""}]}, "mark": {"type": "text"}, "encoding": {"text": {"field": "label", "type": "nominal"}}},
  {"width": 500, "height": 71, "view": {"fill": "#D9D9D9"}, "data": {"values": [{"label": "2000"}]}, "mark": {"type": "text", "fontSize": 36, "color": "#1A1A1A", "dy": 2}, "encoding": {"text": {"field": "label", "type": "nominal"}}}
 ]},
 {"spacing": 15.3, "vconcat": [
  {"spacing": 0, "bounds": "flush", "hconcat": [
   {"width": 500, "height": 695, "view": {"fill": "#EBEBEB"}, "data": {"name": "d"}, "transform": [{"filter": "datum.n === '100' && datum.s === 'Shape 1'"}],
    "encoding": {
     "x": {"field": "t", "type": "quantitative", "scale": {"domain": [-0.05, 1.05], "nice": false, "zero": false}, "axis": {"values": [0,0.125,0.25,0.375,0.5,0.625,0.75,0.875,1], "labels": false, "ticks": false, "title": null, "gridWidth": {"condition": {"test": "datum.value % 0.25 !== 0", "value": 2.2}, "value": 4.45}}},
     "y": {"field": "v", "type": "quantitative", "scale": {"domain": [2.1, 31.76], "nice": false, "zero": false}, "axis": {"values": [5,10,15,20,25,30], "title": null, "labelExpr": "datum.value % 10 === 0 ? datum.label : ''", "tickOpacity": {"condition": {"test": "datum.value % 10 !== 0", "value": 0}, "value": 1}, "gridWidth": {"condition": {"test": "datum.value % 10 !== 0", "value": 2.2}, "value": 4.45}}}
    },
    "layer": [
     {"mark": {"type": "point", "shape": "square", "filled": true, "opacity": 0}, "encoding": {"color": {"field": "m", "type": "nominal", "sort": ["SAEM","BHCR","BL2004","PAVPOP"], "scale": {"range": ["#F2F2F2","#F2F2F2","#F2F2F2","#F2F2F2"]}, "legend": {"title": null, "orient": "none", "legendX": 440.1, "legendY": -138.1, "direction": "horizontal", "symbolType": "square", "symbolSize": 3912, "symbolStrokeWidth": 4.45, "symbolStrokeColor": "#F2F2F2", "symbolFillColor": "#F2F2F2", "symbolOpacity": 1, "labelFont": "Liberation Sans", "labelFontSize": 8, "labelExpr": "'\u200b' + (datum.label === 'BL2004' ? pad('', 56) : datum.label === 'PAVPOP' ? pad('', 66) : pad('', 46)) + '\u200b'"}}}},
     {"mark": {"type": "line", "interpolate": "monotone", "strokeWidth": 4.45}, "encoding": {
      "stroke": {"field": "m", "type": "nominal", "scale": {"domain": ["SAEM","BHCR","BL2004","PAVPOP"], "range": ["#F8766D","#00BFC4","#7CAE00","#C77CFF"]}, "legend": {"title": "Method", "orient": "none", "legendX": 270, "legendY": -138.1, "direction": "horizontal", "titleOrient": "left", "titleBaseline": "line-top", "titleLineHeight": 17, "symbolType": "stroke", "symbolSize": 3912, "symbolStrokeWidth": 4.45}},
      "strokeDash": {"field": "m", "type": "nominal", "scale": {"domain": ["SAEM","BHCR","BL2004","PAVPOP"], "range": [[1,0],[17.8,17.8],[4.45,13.35],[4.45,13.35,17.8,13.35]]}, "legend": {"title": "Method", "orient": "none", "legendX": 270, "legendY": -138.1, "direction": "horizontal", "titleOrient": "left", "titleBaseline": "line-top", "titleLineHeight": 17, "symbolType": "stroke", "symbolSize": 3912, "symbolStrokeWidth": 4.45}}
     }}
    ]},
   {"width": 23, "height": 10, "data": {"values": [{"label": ""}]}, "mark": {"type": "text"}, "encoding": {"text": {"field": "label", "type": "nominal"}}},
   {"width": 500, "height": 695, "view": {"fill": "#EBEBEB"}, "data": {"name": "d"}, "transform": [{"filter": "datum.n === '1000' && datum.s === 'Shape 1'"}],
    "mark": {"type": "line", "interpolate": "monotone", "strokeWidth": 4.45},
    "encoding": {
     "x": {"field": "t", "type": "quantitative", "scale": {"domain": [-0.05, 1.05], "nice": false, "zero": false}, "axis": {"values": [0,0.125,0.25,0.375,0.5,0.625,0.75,0.875,1], "labels": false, "ticks": false, "title": null, "gridWidth": {"condition": {"test": "datum.value % 0.25 !== 0", "value": 2.2}, "value": 4.45}}},
     "y": {"field": "v", "type": "quantitative", "scale": {"domain": [2.1, 31.76], "nice": false, "zero": false}, "axis": {"values": [5,10,15,20,25,30], "title": null, "labels": false, "ticks": false, "gridWidth": {"condition": {"test": "datum.value % 10 !== 0", "value": 2.2}, "value": 4.45}}},
     "stroke": {"field": "m", "type": "nominal", "scale": {"domain": ["SAEM","BHCR","BL2004","PAVPOP"], "range": ["#F8766D","#00BFC4","#7CAE00","#C77CFF"]}, "legend": {"title": "Method", "orient": "none", "legendX": 270, "legendY": -138.1, "direction": "horizontal", "titleOrient": "left", "titleBaseline": "line-top", "titleLineHeight": 17, "symbolType": "stroke", "symbolSize": 3912, "symbolStrokeWidth": 4.45}},
     "strokeDash": {"field": "m", "type": "nominal", "scale": {"domain": ["SAEM","BHCR","BL2004","PAVPOP"], "range": [[1,0],[17.8,17.8],[4.45,13.35],[4.45,13.35,17.8,13.35]]}, "legend": {"title": "Method", "orient": "none", "legendX": 270, "legendY": -138.1, "direction": "horizontal", "titleOrient": "left", "titleBaseline": "line-top", "titleLineHeight": 17, "symbolType": "stroke", "symbolSize": 3912, "symbolStrokeWidth": 4.45}}
    }},
   {"width": 23, "height": 10, "data": {"values": [{"label": ""}]}, "mark": {"type": "text"}, "encoding": {"text": {"field": "label", "type": "nominal"}}},
   {"width": 500, "height": 695, "view": {"fill": "#EBEBEB"}, "data": {"name": "d"}, "transform": [{"filter": "datum.n === '2000' && datum.s === 'Shape 1'"}],
    "mark": {"type": "line", "interpolate": "monotone", "strokeWidth": 4.45},
    "encoding": {
     "x": {"field": "t", "type": "quantitative", "scale": {"domain": [-0.05, 1.05], "nice": false, "zero": false}, "axis": {"values": [0,0.125,0.25,0.375,0.5,0.625,0.75,0.875,1], "labels": false, "ticks": false, "title": null, "gridWidth": {"condition": {"test": "datum.value % 0.25 !== 0", "value": 2.2}, "value": 4.45}}},
     "y": {"field": "v", "type": "quantitative", "scale": {"domain": [2.1, 31.76], "nice": false, "zero": false}, "axis": {"values": [5,10,15,20,25,30], "title": null, "labels": false, "ticks": false, "gridWidth": {"condition": {"test": "datum.value % 10 !== 0", "value": 2.2}, "value": 4.45}}},
     "stroke": {"field": "m", "type": "nominal", "scale": {"domain": ["SAEM","BHCR","BL2004","PAVPOP"], "range": ["#F8766D","#00BFC4","#7CAE00","#C77CFF"]}, "legend": {"title": "Method", "orient": "none", "legendX": 270, "legendY": -138.1, "direction": "horizontal", "titleOrient": "left", "titleBaseline": "line-top", "titleLineHeight": 17, "symbolType": "stroke", "symbolSize": 3912, "symbolStrokeWidth": 4.45}},
     "strokeDash": {"field": "m", "type": "nominal", "scale": {"domain": ["SAEM","BHCR","BL2004","PAVPOP"], "range": [[1,0],[17.8,17.8],[4.45,13.35],[4.45,13.35,17.8,13.35]]}, "legend": {"title": "Method", "orient": "none", "legendX": 270, "legendY": -138.1, "direction": "horizontal", "titleOrient": "left", "titleBaseline": "line-top", "titleLineHeight": 17, "symbolType": "stroke", "symbolSize": 3912, "symbolStrokeWidth": 4.45}}
    }},
   {"width": 72, "height": 695, "view": {"fill": "#D9D9D9"}, "data": {"values": [{"label": "Shape 1"}]}, "mark": {"type": "text", "fontSize": 36, "color": "#1A1A1A", "angle": 90}, "encoding": {"text": {"field": "label", "type": "nominal"}}}
  ]},
  {"spacing": 0, "bounds": "flush", "hconcat": [
   {"width": 500, "height": 695, "view": {"fill": "#EBEBEB"}, "data": {"name": "d"}, "transform": [{"filter": "datum.n === '100' && datum.s === 'Shape 2'"}],
    "mark": {"type": "line", "interpolate": "monotone", "strokeWidth": 4.45},
    "encoding": {
     "x": {"field": "t", "type": "quantitative", "scale": {"domain": [-0.05, 1.05], "nice": false, "zero": false}, "axis": {"values": [0,0.125,0.25,0.375,0.5,0.625,0.75,0.875,1], "title": null, "labelExpr": "datum.value % 0.25 === 0 ? format(datum.value, '.2f') : ''", "tickOpacity": {"condition": {"test": "datum.value % 0.25 !== 0", "value": 0}, "value": 1}, "gridWidth": {"condition": {"test": "datum.value % 0.25 !== 0", "value": 2.2}, "value": 4.45}}},
     "y": {"field": "v", "type": "quantitative", "scale": {"domain": [-18.3, 507.8], "nice": false, "zero": false}, "axis": {"values": [0,50,100,150,200,250,300,350,400,450,500], "title": null, "labelExpr": "datum.value % 100 === 0 ? datum.label : ''", "tickOpacity": {"condition": {"test": "datum.value % 100 !== 0", "value": 0}, "value": 1}, "gridWidth": {"condition": {"test": "datum.value % 100 !== 0", "value": 2.2}, "value": 4.45}}},
     "stroke": {"field": "m", "type": "nominal", "scale": {"domain": ["SAEM","BHCR","BL2004","PAVPOP"], "range": ["#F8766D","#00BFC4","#7CAE00","#C77CFF"]}, "legend": {"title": "Method", "orient": "none", "legendX": 270, "legendY": -138.1, "direction": "horizontal", "titleOrient": "left", "titleBaseline": "line-top", "titleLineHeight": 17, "symbolType": "stroke", "symbolSize": 3912, "symbolStrokeWidth": 4.45}},
     "strokeDash": {"field": "m", "type": "nominal", "scale": {"domain": ["SAEM","BHCR","BL2004","PAVPOP"], "range": [[1,0],[17.8,17.8],[4.45,13.35],[4.45,13.35,17.8,13.35]]}, "legend": {"title": "Method", "orient": "none", "legendX": 270, "legendY": -138.1, "direction": "horizontal", "titleOrient": "left", "titleBaseline": "line-top", "titleLineHeight": 17, "symbolType": "stroke", "symbolSize": 3912, "symbolStrokeWidth": 4.45}}
    }},
   {"width": 23, "height": 10, "data": {"values": [{"label": ""}]}, "mark": {"type": "text"}, "encoding": {"text": {"field": "label", "type": "nominal"}}},
   {"width": 500, "height": 695, "view": {"fill": "#EBEBEB"}, "data": {"name": "d"}, "transform": [{"filter": "datum.n === '1000' && datum.s === 'Shape 2'"}],
    "mark": {"type": "line", "interpolate": "monotone", "strokeWidth": 4.45},
    "encoding": {
     "x": {"field": "t", "type": "quantitative", "scale": {"domain": [-0.05, 1.05], "nice": false, "zero": false}, "axis": {"values": [0,0.125,0.25,0.375,0.5,0.625,0.75,0.875,1], "title": "Time", "labelExpr": "datum.value % 0.25 === 0 ? format(datum.value, '.2f') : ''", "tickOpacity": {"condition": {"test": "datum.value % 0.25 !== 0", "value": 0}, "value": 1}, "gridWidth": {"condition": {"test": "datum.value % 0.25 !== 0", "value": 2.2}, "value": 4.45}}},
     "y": {"field": "v", "type": "quantitative", "scale": {"domain": [-18.3, 507.8], "nice": false, "zero": false}, "axis": {"values": [0,50,100,150,200,250,300,350,400,450,500], "title": null, "labels": false, "ticks": false, "gridWidth": {"condition": {"test": "datum.value % 100 !== 0", "value": 2.2}, "value": 4.45}}},
     "stroke": {"field": "m", "type": "nominal", "scale": {"domain": ["SAEM","BHCR","BL2004","PAVPOP"], "range": ["#F8766D","#00BFC4","#7CAE00","#C77CFF"]}, "legend": {"title": "Method", "orient": "none", "legendX": 270, "legendY": -138.1, "direction": "horizontal", "titleOrient": "left", "titleBaseline": "line-top", "titleLineHeight": 17, "symbolType": "stroke", "symbolSize": 3912, "symbolStrokeWidth": 4.45}},
     "strokeDash": {"field": "m", "type": "nominal", "scale": {"domain": ["SAEM","BHCR","BL2004","PAVPOP"], "range": [[1,0],[17.8,17.8],[4.45,13.35],[4.45,13.35,17.8,13.35]]}, "legend": {"title": "Method", "orient": "none", "legendX": 270, "legendY": -138.1, "direction": "horizontal", "titleOrient": "left", "titleBaseline": "line-top", "titleLineHeight": 17, "symbolType": "stroke", "symbolSize": 3912, "symbolStrokeWidth": 4.45}}
    }},
   {"width": 23, "height": 10, "data": {"values": [{"label": ""}]}, "mark": {"type": "text"}, "encoding": {"text": {"field": "label", "type": "nominal"}}},
   {"width": 500, "height": 695, "view": {"fill": "#EBEBEB"}, "data": {"name": "d"}, "transform": [{"filter": "datum.n === '2000' && datum.s === 'Shape 2'"}],
    "mark": {"type": "line", "interpolate": "monotone", "strokeWidth": 4.45},
    "encoding": {
     "x": {"field": "t", "type": "quantitative", "scale": {"domain": [-0.05, 1.05], "nice": false, "zero": false}, "axis": {"values": [0,0.125,0.25,0.375,0.5,0.625,0.75,0.875,1], "title": null, "labelExpr": "datum.value % 0.25 === 0 ? format(datum.value, '.2f') : ''", "tickOpacity": {"condition": {"test": "datum.value % 0.25 !== 0", "value": 0}, "value": 1}, "gridWidth": {"condition": {"test": "datum.value % 0.25 !== 0", "value": 2.2}, "value": 4.45}}},
     "y": {"field": "v", "type": "quantitative", "scale": {"domain": [-18.3, 507.8], "nice": false, "zero": false}, "axis": {"values": [0,50,100,150,200,250,300,350,400,450,500], "title": null, "labels": false, "ticks": false, "gridWidth": {"condition": {"test": "datum.value % 100 !== 0", "value": 2.2}, "value": 4.45}}},
     "stroke": {"field": "m", "type": "nominal", "scale": {"domain": ["SAEM","BHCR","BL2004","PAVPOP"], "range": ["#F8766D","#00BFC4","#7CAE00","#C77CFF"]}, "legend": {"title": "Method", "orient": "none", "legendX": 270, "legendY": -138.1, "direction": "horizontal", "titleOrient": "left", "titleBaseline": "line-top", "titleLineHeight": 17, "symbolType": "stroke", "symbolSize": 3912, "symbolStrokeWidth": 4.45}},
     "strokeDash": {"field": "m", "type": "nominal", "scale": {"domain": ["SAEM","BHCR","BL2004","PAVPOP"], "range": [[1,0],[17.8,17.8],[4.45,13.35],[4.45,13.35,17.8,13.35]]}, "legend": {"title": "Method", "orient": "none", "legendX": 270, "legendY": -138.1, "direction": "horizontal", "titleOrient": "left", "titleBaseline": "line-top", "titleLineHeight": 17, "symbolType": "stroke", "symbolSize": 3912, "symbolStrokeWidth": 4.45}}
    }},
   {"width": 72, "height": 695, "view": {"fill": "#D9D9D9"}, "data": {"values": [{"label": "Shape 2"}]}, "mark": {"type": "text", "fontSize": 36, "color": "#1A1A1A", "angle": 90}, "encoding": {"text": {"field": "label", "type": "nominal"}}}
  ]}
 ]}
]
}
